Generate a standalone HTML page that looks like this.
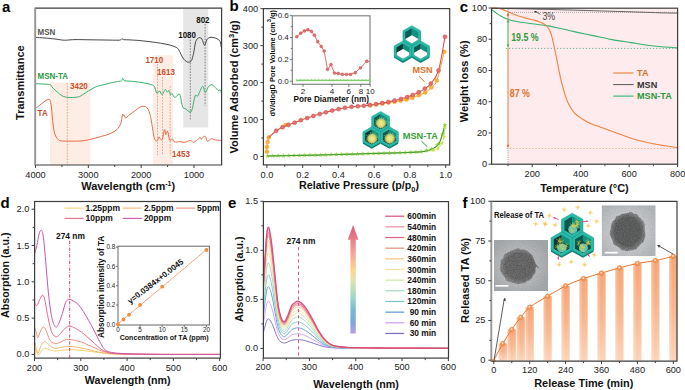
<!DOCTYPE html>
<html><head><meta charset="utf-8"><style>
html,body{margin:0;padding:0;background:#fff;}
svg{display:block;font-family:"Liberation Sans", sans-serif;}
</style></head><body>
<svg width="685" height="390" viewBox="0 0 685 390">
<rect width="685" height="390" fill="#fff"/>
<rect x="50" y="82.5" width="40.2" height="82.5" fill="#fdede4" />
<rect x="153.2" y="55.3" width="19.8" height="109.7" fill="#fdede4" />
<rect x="183.2" y="8.8" width="25" height="118.7" fill="#e6e6e6" />
<line x1="67.3" y1="83" x2="67.3" y2="165" stroke="#d77a62" stroke-width="0.65" stroke-dasharray="1.6,1.3"/>
<line x1="157.5" y1="64" x2="157.5" y2="155" stroke="#d77a62" stroke-width="0.65" stroke-dasharray="1.6,1.3"/>
<line x1="162.5" y1="77" x2="162.5" y2="155" stroke="#d77a62" stroke-width="0.65" stroke-dasharray="1.6,1.3"/>
<line x1="170.2" y1="86" x2="170.2" y2="155" stroke="#d77a62" stroke-width="0.65" stroke-dasharray="1.6,1.3"/>
<line x1="190.3" y1="39.5" x2="190.3" y2="120" stroke="#555" stroke-width="0.7" stroke-dasharray="1.6,1.3"/>
<line x1="205.1" y1="24" x2="205.1" y2="105.8" stroke="#555" stroke-width="0.7" stroke-dasharray="1.6,1.3"/>
<path d="M35.5,37.4 C37.08,37.5 41.75,37.73 45,38 C48.25,38.27 52.17,38.67 55,39 C57.83,39.33 60.17,39.8 62,40 C63.83,40.2 63.83,40.27 66,40.2 C68.17,40.13 71,39.67 75,39.6 C79,39.53 85,39.73 90,39.8 C95,39.87 100.33,39.93 105,40 C109.67,40.07 115.37,40.23 118,40.2 C120.63,40.17 120.13,40.07 120.8,39.8 C121.47,39.53 121.58,38.63 122,38.6 C122.42,38.57 121.97,39.38 123.3,39.6 C124.63,39.82 127.22,39.73 130,39.9 C132.78,40.07 136.67,40.3 140,40.6 C143.33,40.9 146.58,41.27 150,41.7 C153.42,42.13 157.35,42.68 160.5,43.2 C163.65,43.72 166.45,44.18 168.9,44.8 C171.35,45.42 173.62,46.17 175.2,46.9 C176.78,47.63 177.43,47.97 178.4,49.2 C179.37,50.43 180.13,52.67 181,54.3 C181.87,55.93 182.68,57.8 183.6,59 C184.52,60.2 185.62,60.97 186.5,61.5 C187.38,62.03 188.07,62.35 188.9,62.2 C189.73,62.05 190.72,62.1 191.5,60.6 C192.28,59.1 192.9,56.35 193.6,53.2 C194.3,50.05 194.9,44.23 195.7,41.7 C196.5,39.17 197.52,38.62 198.4,38 C199.28,37.38 200.3,37.57 201,38 C201.7,38.43 202,39.37 202.6,40.6 C203.2,41.83 203.9,45.53 204.6,45.4 C205.3,45.27 206.07,41.07 206.8,39.8 C207.53,38.53 208.3,38.22 209,37.8 C209.7,37.38 209.97,37.27 211,37.3 C212.03,37.33 213.97,37.62 215.2,38 C216.43,38.38 217.57,38.98 218.4,39.6 C219.23,40.22 219.73,40.47 220.2,41.7 C220.67,42.93 221.03,46.12 221.2,47" stroke="#333" stroke-width="0.9" fill="none" />
<path d="M35.5,83.6 C36.25,83.65 37.78,83.78 40,83.9 C42.22,84.02 47.05,84.15 48.8,84.3 C50.55,84.45 49.78,84.13 50.5,84.8 C51.22,85.47 51.93,87.07 53.1,88.3 C54.27,89.53 56.03,90.97 57.5,92.2 C58.97,93.43 60.58,94.9 61.9,95.7 C63.22,96.5 63.95,96.7 65.4,97 C66.85,97.3 68.55,97.5 70.6,97.5 C72.65,97.5 75.93,97.3 77.7,97 C79.47,96.7 79.75,96.5 81.2,95.7 C82.65,94.9 84.8,93.22 86.4,92.2 C88,91.18 89.33,90.43 90.8,89.6 C92.27,88.77 93.67,87.87 95.2,87.2 C96.73,86.53 97.73,86.23 100,85.6 C102.27,84.97 105.88,84.08 108.8,83.4 C111.72,82.72 115.4,81.92 117.5,81.5 C119.6,81.08 120.55,81.42 121.4,80.9 C122.25,80.38 122.18,78.52 122.6,78.4 C123.02,78.28 123.5,79.8 123.9,80.2 C124.3,80.6 123.15,80.57 125,80.8 C126.85,81.03 131.87,81.25 135,81.6 C138.13,81.95 141.3,82.47 143.8,82.9 C146.3,83.33 148.27,83.63 150,84.2 C151.73,84.77 153.07,84.82 154.2,86.3 C155.33,87.78 155.92,92.32 156.8,93.1 C157.68,93.88 158.62,90.73 159.5,91 C160.38,91.27 161.15,94.95 162.1,94.7 C163.05,94.45 164.32,89.93 165.2,89.5 C166.08,89.07 166.78,91.93 167.4,92.1 C168.02,92.27 168.38,90.07 168.9,90.5 C169.42,90.93 169.97,94.17 170.5,94.7 C171.03,95.23 171.4,93.25 172.1,93.7 C172.8,94.15 173.57,97.32 174.7,97.4 C175.83,97.48 177.93,94.3 178.9,94.2 C179.87,94.1 179.88,94.7 180.5,96.8 C181.12,98.9 181.72,104.78 182.6,106.8 C183.48,108.82 184.57,108.02 185.8,108.9 C187.03,109.78 188.95,112.02 190,112.1 C191.05,112.18 191.23,112.12 192.1,109.4 C192.97,106.68 194.25,98.07 195.2,95.8 C196.15,93.53 196.57,97.38 197.8,95.8 C199.03,94.22 201.37,86.83 202.6,86.3 C203.83,85.77 204.23,92.52 205.2,92.6 C206.17,92.68 207.27,88.12 208.4,86.8 C209.53,85.48 210.87,84.6 212,84.7 C213.13,84.8 214.15,86.43 215.2,87.4 C216.25,88.37 217.42,90.07 218.3,90.5 C219.18,90.93 219.98,89.5 220.5,90 C221.02,90.5 221.25,92.92 221.4,93.5" stroke="#35b06a" stroke-width="1.0" fill="none" />
<path d="M35.5,108.4 C36.25,107.83 38.42,106.23 40,105 C41.58,103.77 43.52,101.95 45,101 C46.48,100.05 48,99.22 48.9,99.3 C49.8,99.38 49.97,100.05 50.4,101.5 C50.83,102.95 51.07,104.25 51.5,108 C51.93,111.75 52.48,119.83 53,124 C53.52,128.17 53.93,130.63 54.6,133 C55.27,135.37 55.98,136.9 57,138.2 C58.02,139.5 58.53,140.32 60.7,140.8 C62.87,141.28 66.62,141.07 70,141.1 C73.38,141.13 77.77,141.25 81,141 C84.23,140.75 87.07,140.07 89.4,139.6 C91.73,139.13 92.95,138.75 95,138.2 C97.05,137.65 99.53,136.92 101.7,136.3 C103.87,135.68 106.28,135.1 108,134.5 C109.72,133.9 110.67,133.4 112,132.7 C113.33,132 115,131.03 116,130.3 C117,129.57 117.28,129.22 118,128.3 C118.72,127.38 119.68,126.25 120.3,124.8 C120.92,123.35 121.35,121.33 121.7,119.6 C122.05,117.87 122.15,115.07 122.4,114.4 C122.65,113.73 122.93,115.53 123.2,115.6 C123.47,115.67 123.57,114.37 124,114.8 C124.43,115.23 125.07,118.07 125.8,118.2 C126.53,118.33 127.02,116.72 128.4,115.6 C129.78,114.48 132.18,112.9 134.1,111.5 C136.02,110.1 138.25,108.07 139.9,107.2 C141.55,106.33 142.85,106.25 144,106.3 C145.15,106.35 145.95,106.63 146.8,107.5 C147.65,108.37 148.42,109.67 149.1,111.5 C149.78,113.33 150.32,115.62 150.9,118.5 C151.48,121.38 152.03,125.53 152.6,128.8 C153.17,132.07 153.72,136.07 154.3,138.1 C154.88,140.13 155.52,140.72 156.1,141 C156.68,141.28 157.33,140.48 157.8,139.8 C158.27,139.12 158.52,137.1 158.9,136.9 C159.28,136.7 159.7,138.12 160.1,138.6 C160.5,139.08 160.92,139.7 161.3,139.8 C161.68,139.9 162.02,140.27 162.4,139.2 C162.78,138.13 163.22,135.03 163.6,133.4 C163.98,131.77 164.32,129.2 164.7,129.4 C165.08,129.6 165.42,134.32 165.9,134.6 C166.38,134.88 167.03,130.33 167.6,131.1 C168.17,131.87 168.82,137.68 169.3,139.2 C169.78,140.72 169.98,140.25 170.5,140.2 C171.02,140.15 171.82,138.65 172.4,138.9 C172.98,139.15 173.2,141.17 174,141.7 C174.8,142.23 176.27,142.17 177.2,142.1 C178.13,142.03 178.8,141.3 179.6,141.3 C180.4,141.3 180.92,141.97 182,142.1 C183.08,142.23 185.02,142.3 186.1,142.1 C187.18,141.9 187.63,141.13 188.5,140.9 C189.37,140.67 190.5,140.47 191.3,140.7 C192.1,140.93 192.43,142.33 193.3,142.3 C194.17,142.27 195.37,141.3 196.5,140.5 C197.63,139.7 199.3,137.7 200.1,137.5 C200.9,137.3 200.7,139.47 201.3,139.3 C201.9,139.13 202.97,136.9 203.7,136.5 C204.43,136.1 205.1,136.1 205.7,136.9 C206.3,137.7 206.35,141.02 207.3,141.3 C208.25,141.58 210.25,138.87 211.4,138.6 C212.55,138.33 212.6,139.38 214.2,139.7 C215.8,140.02 219.87,140.37 221,140.5" stroke="#ea6a45" stroke-width="1.0" fill="none" />
<path d="M35.2,8.2 H221.6 V165 H35.2" fill="none" stroke="#3c3c3c" stroke-width="1.2" stroke-linecap="square"/>
<line x1="35.2" y1="8.2" x2="35.2" y2="165" stroke="#959595" stroke-width="1.9" />
<line x1="35.5" y1="165" x2="35.5" y2="168" stroke="#3c3c3c" stroke-width="1.0" />
<line x1="88.33" y1="165" x2="88.33" y2="168" stroke="#3c3c3c" stroke-width="1.0" />
<line x1="141.16" y1="165" x2="141.16" y2="168" stroke="#3c3c3c" stroke-width="1.0" />
<line x1="193.99" y1="165" x2="193.99" y2="168" stroke="#3c3c3c" stroke-width="1.0" />
<line x1="61.92" y1="165" x2="61.92" y2="167" stroke="#3c3c3c" stroke-width="1.0" />
<line x1="114.75" y1="165" x2="114.75" y2="167" stroke="#3c3c3c" stroke-width="1.0" />
<line x1="167.58" y1="165" x2="167.58" y2="167" stroke="#3c3c3c" stroke-width="1.0" />
<text x="0" y="0" transform="translate(35.5,177.6) scale(1,1.06)" font-size="9.2" font-weight="normal" fill="#222" text-anchor="middle" >4000</text>
<text x="0" y="0" transform="translate(88.33,177.6) scale(1,1.06)" font-size="9.2" font-weight="normal" fill="#222" text-anchor="middle" >3000</text>
<text x="0" y="0" transform="translate(141.16,177.6) scale(1,1.06)" font-size="9.2" font-weight="normal" fill="#222" text-anchor="middle" >2000</text>
<text x="0" y="0" transform="translate(193.99,177.6) scale(1,1.06)" font-size="9.2" font-weight="normal" fill="#222" text-anchor="middle" >1000</text>
<text x="128.2" y="190.2" font-size="11" font-weight="bold" fill="#111" text-anchor="middle" >Wavelength (cm<tspan font-size="7" dy="-4">-1</tspan><tspan dy="4">)</tspan></text>
<text x="0" y="0" font-size="11" font-weight="bold" fill="#111" text-anchor="middle" transform="translate(23.8,82.6) rotate(-90)">Transmittance</text>
<text x="0" y="0" transform="translate(37.6,34.8) scale(1,1.22)" font-size="8" font-weight="bold" fill="#555" text-anchor="start" >MSN</text>
<text x="0" y="0" transform="translate(37.6,79.4) scale(1,1.22)" font-size="8" font-weight="bold" fill="#2b9a45" text-anchor="start" >MSN-TA</text>
<text x="0" y="0" transform="translate(37.6,116.2) scale(1,1.22)" font-size="8" font-weight="bold" fill="#c9502c" text-anchor="start" >TA</text>
<text x="0" y="0" transform="translate(70,88.6) scale(1,1.22)" font-size="8" font-weight="bold" fill="#c9502c" text-anchor="start" >3420</text>
<text x="0" y="0" transform="translate(145.4,63) scale(1,1.22)" font-size="8" font-weight="bold" fill="#c9502c" text-anchor="start" >1710</text>
<text x="0" y="0" transform="translate(157.1,75) scale(1,1.22)" font-size="8" font-weight="bold" fill="#c9502c" text-anchor="start" >1613</text>
<text x="0" y="0" transform="translate(172.1,157.3) scale(1,1.22)" font-size="8" font-weight="bold" fill="#c9502c" text-anchor="start" >1453</text>
<text x="0" y="0" transform="translate(178.2,37.8) scale(1,1.22)" font-size="8" font-weight="bold" fill="#111" text-anchor="start" >1080</text>
<text x="0" y="0" transform="translate(196.2,22.8) scale(1,1.22)" font-size="8" font-weight="bold" fill="#111" text-anchor="start" >802</text>
<text x="2" y="11.6" font-size="15" font-weight="bold" fill="#000" text-anchor="start" >a</text>
<defs><radialGradient id="fuzz"><stop offset="0" stop-color="#f3ec8c"/><stop offset="0.55" stop-color="#e3dc70"/><stop offset="0.8" stop-color="#c8d67a" stop-opacity="0.8"/><stop offset="1" stop-color="#9ccf90" stop-opacity="0.3"/></radialGradient></defs>
<rect x="263.4" y="8.6" width="186.3" height="156.3" fill="none" stroke="#3c3c3c" stroke-width="1.2"/>
<line x1="266.9" y1="164.9" x2="266.9" y2="167.9" stroke="#3c3c3c" stroke-width="1.0" />
<line x1="302.66" y1="164.9" x2="302.66" y2="167.9" stroke="#3c3c3c" stroke-width="1.0" />
<line x1="338.42" y1="164.9" x2="338.42" y2="167.9" stroke="#3c3c3c" stroke-width="1.0" />
<line x1="374.18" y1="164.9" x2="374.18" y2="167.9" stroke="#3c3c3c" stroke-width="1.0" />
<line x1="409.94" y1="164.9" x2="409.94" y2="167.9" stroke="#3c3c3c" stroke-width="1.0" />
<line x1="445.7" y1="164.9" x2="445.7" y2="167.9" stroke="#3c3c3c" stroke-width="1.0" />
<line x1="284.78" y1="164.9" x2="284.78" y2="166.9" stroke="#3c3c3c" stroke-width="1.0" />
<line x1="320.54" y1="164.9" x2="320.54" y2="166.9" stroke="#3c3c3c" stroke-width="1.0" />
<line x1="356.3" y1="164.9" x2="356.3" y2="166.9" stroke="#3c3c3c" stroke-width="1.0" />
<line x1="392.06" y1="164.9" x2="392.06" y2="166.9" stroke="#3c3c3c" stroke-width="1.0" />
<line x1="427.82" y1="164.9" x2="427.82" y2="166.9" stroke="#3c3c3c" stroke-width="1.0" />
<line x1="260.4" y1="156.5" x2="263.4" y2="156.5" stroke="#3c3c3c" stroke-width="1.0" />
<line x1="260.4" y1="119.55" x2="263.4" y2="119.55" stroke="#3c3c3c" stroke-width="1.0" />
<line x1="260.4" y1="82.6" x2="263.4" y2="82.6" stroke="#3c3c3c" stroke-width="1.0" />
<line x1="260.4" y1="45.65" x2="263.4" y2="45.65" stroke="#3c3c3c" stroke-width="1.0" />
<line x1="260.4" y1="8.7" x2="263.4" y2="8.7" stroke="#3c3c3c" stroke-width="1.0" />
<line x1="261.4" y1="138.03" x2="263.4" y2="138.03" stroke="#3c3c3c" stroke-width="1.0" />
<line x1="261.4" y1="101.08" x2="263.4" y2="101.08" stroke="#3c3c3c" stroke-width="1.0" />
<line x1="261.4" y1="64.12" x2="263.4" y2="64.12" stroke="#3c3c3c" stroke-width="1.0" />
<line x1="261.4" y1="27.18" x2="263.4" y2="27.18" stroke="#3c3c3c" stroke-width="1.0" />
<text x="0" y="0" transform="translate(266.9,177.6) scale(1,1.06)" font-size="9.2" font-weight="normal" fill="#222" text-anchor="middle" >0.0</text>
<text x="0" y="0" transform="translate(302.66,177.6) scale(1,1.06)" font-size="9.2" font-weight="normal" fill="#222" text-anchor="middle" >0.2</text>
<text x="0" y="0" transform="translate(338.42,177.6) scale(1,1.06)" font-size="9.2" font-weight="normal" fill="#222" text-anchor="middle" >0.4</text>
<text x="0" y="0" transform="translate(374.18,177.6) scale(1,1.06)" font-size="9.2" font-weight="normal" fill="#222" text-anchor="middle" >0.6</text>
<text x="0" y="0" transform="translate(409.94,177.6) scale(1,1.06)" font-size="9.2" font-weight="normal" fill="#222" text-anchor="middle" >0.8</text>
<text x="0" y="0" transform="translate(445.7,177.6) scale(1,1.06)" font-size="9.2" font-weight="normal" fill="#222" text-anchor="middle" >1.0</text>
<text x="0" y="0" transform="translate(258.2,159.5) scale(1,1.06)" font-size="9.2" font-weight="normal" fill="#222" text-anchor="end" >0</text>
<text x="0" y="0" transform="translate(258.2,122.55) scale(1,1.06)" font-size="9.2" font-weight="normal" fill="#222" text-anchor="end" >100</text>
<text x="0" y="0" transform="translate(258.2,85.6) scale(1,1.06)" font-size="9.2" font-weight="normal" fill="#222" text-anchor="end" >200</text>
<text x="0" y="0" transform="translate(258.2,48.65) scale(1,1.06)" font-size="9.2" font-weight="normal" fill="#222" text-anchor="end" >300</text>
<text x="0" y="0" transform="translate(258.2,11.7) scale(1,1.06)" font-size="9.2" font-weight="normal" fill="#222" text-anchor="end" >400</text>
<text x="359" y="189.4" font-size="10.7" font-weight="bold" fill="#111" text-anchor="middle" >Relative Pressure (p/p<tspan font-size="7.3" dy="2.5">0</tspan><tspan dy="-2.5">)</tspan></text>
<text x="0" y="0" font-size="11" font-weight="bold" fill="#111" text-anchor="middle" transform="translate(238.2,86.9) rotate(-90)">Volume Adsorbed (cm<tspan font-size="7.5" dy="-4">3</tspan><tspan dy="4">/g)</tspan></text>
<text x="229.5" y="11" font-size="15" font-weight="bold" fill="#000" text-anchor="start" >b</text>
<path d="M266.9,151.8 L266.9,147 L267.6,142.1 L268.7,137.5" stroke="#f5a12a" stroke-width="1.0" fill="none" />
<path d="M370.5,105.1 C371.5,104.97 374.5,104.58 376.5,104.3 C378.5,104.02 380.5,103.68 382.5,103.4 C384.5,103.12 386.5,102.87 388.5,102.6 C390.5,102.33 392.5,102.1 394.5,101.8 C396.5,101.5 398.5,101.17 400.5,100.8 C402.5,100.43 404.52,100.1 406.5,99.6 C408.48,99.1 410.35,98.53 412.4,97.8 C414.45,97.07 416.67,96.07 418.8,95.2 C420.93,94.33 423.12,93.88 425.2,92.6 C427.28,91.32 429.37,89.5 431.3,87.5 C433.23,85.5 434.65,86.55 436.8,80.6 C438.95,74.65 442.97,56.6 444.2,51.8" stroke="#f5a12a" stroke-width="1.0" fill="none" />
<circle cx="266.9" cy="151.8" r="2.0" fill="#f9b234" stroke="#f39a1e" stroke-width="0.4"/>
<circle cx="266.9" cy="147" r="2.0" fill="#f9b234" stroke="#f39a1e" stroke-width="0.4"/>
<circle cx="267.6" cy="142.1" r="2.0" fill="#f9b234" stroke="#f39a1e" stroke-width="0.4"/>
<circle cx="268.7" cy="137.5" r="2.0" fill="#f9b234" stroke="#f39a1e" stroke-width="0.4"/>
<circle cx="285.6" cy="124.9" r="2.0" fill="#f9b234" stroke="#f39a1e" stroke-width="0.4"/>
<circle cx="444.2" cy="51.8" r="2.0" fill="#f9b234" stroke="#f39a1e" stroke-width="0.4"/>
<circle cx="436.8" cy="80.6" r="2.0" fill="#f9b234" stroke="#f39a1e" stroke-width="0.4"/>
<circle cx="431.3" cy="87.5" r="2.0" fill="#f9b234" stroke="#f39a1e" stroke-width="0.4"/>
<circle cx="425.2" cy="92.6" r="2.0" fill="#f9b234" stroke="#f39a1e" stroke-width="0.4"/>
<circle cx="418.8" cy="95.2" r="2.0" fill="#f9b234" stroke="#f39a1e" stroke-width="0.4"/>
<circle cx="412.4" cy="97.8" r="2.0" fill="#f9b234" stroke="#f39a1e" stroke-width="0.4"/>
<circle cx="406.5" cy="99.6" r="2.0" fill="#f9b234" stroke="#f39a1e" stroke-width="0.4"/>
<circle cx="400.5" cy="100.8" r="2.0" fill="#f9b234" stroke="#f39a1e" stroke-width="0.4"/>
<circle cx="394.5" cy="101.8" r="2.0" fill="#f9b234" stroke="#f39a1e" stroke-width="0.4"/>
<circle cx="388.5" cy="102.6" r="2.0" fill="#f9b234" stroke="#f39a1e" stroke-width="0.4"/>
<circle cx="382.5" cy="103.4" r="2.0" fill="#f9b234" stroke="#f39a1e" stroke-width="0.4"/>
<circle cx="376.5" cy="104.3" r="2.0" fill="#f9b234" stroke="#f39a1e" stroke-width="0.4"/>
<circle cx="370.5" cy="105.1" r="2.0" fill="#f9b234" stroke="#f39a1e" stroke-width="0.4"/>
<path d="M268.7,137.6 C269.95,136.47 273.9,132.53 276.2,130.8 C278.5,129.07 280.45,128.2 282.5,127.2 C284.55,126.2 286.48,125.55 288.5,124.8 C290.52,124.05 292.55,123.47 294.6,122.7 C296.65,121.93 298.7,120.98 300.8,120.2 C302.9,119.42 305.1,118.7 307.2,118 C309.3,117.3 311.32,116.65 313.4,116 C315.48,115.35 317.63,114.72 319.7,114.1 C321.77,113.48 323.72,112.88 325.8,112.3 C327.88,111.72 330.05,111.13 332.2,110.6 C334.35,110.07 336.57,109.57 338.7,109.1 C340.83,108.63 342.87,108.18 345,107.8 C347.13,107.42 349.37,107.05 351.5,106.8 C353.63,106.55 355.75,106.47 357.8,106.3 C359.85,106.13 361.8,106 363.8,105.8 C365.8,105.6 367.8,105.37 369.8,105.1 C371.8,104.83 373.73,104.53 375.8,104.2 C377.87,103.87 380.12,103.48 382.2,103.1 C384.28,102.72 386.25,102.32 388.3,101.9 C390.35,101.48 392.38,101.1 394.5,100.6 C396.62,100.1 398.88,99.48 401,98.9 C403.12,98.32 405.23,97.75 407.2,97.1 C409.17,96.45 410.88,95.8 412.8,95 C414.72,94.2 416.68,93.37 418.7,92.3 C420.72,91.23 422.88,90.05 424.9,88.6 C426.92,87.15 428.53,86.62 430.8,83.6 C433.07,80.58 436.13,78.3 438.5,70.5 C440.87,62.7 443.92,42.42 445,36.8" stroke="#e0554a" stroke-width="1.1" fill="none" />
<circle cx="276.2" cy="130.8" r="2.0" fill="#e2726c" stroke="#cf4842" stroke-width="0.5"/>
<circle cx="282.5" cy="127.2" r="2.0" fill="#e2726c" stroke="#cf4842" stroke-width="0.5"/>
<circle cx="288.5" cy="124.8" r="2.0" fill="#e2726c" stroke="#cf4842" stroke-width="0.5"/>
<circle cx="294.6" cy="122.7" r="2.0" fill="#e2726c" stroke="#cf4842" stroke-width="0.5"/>
<circle cx="300.8" cy="120.2" r="2.0" fill="#e2726c" stroke="#cf4842" stroke-width="0.5"/>
<circle cx="307.2" cy="118" r="2.0" fill="#e2726c" stroke="#cf4842" stroke-width="0.5"/>
<circle cx="313.4" cy="116" r="2.0" fill="#e2726c" stroke="#cf4842" stroke-width="0.5"/>
<circle cx="319.7" cy="114.1" r="2.0" fill="#e2726c" stroke="#cf4842" stroke-width="0.5"/>
<circle cx="325.8" cy="112.3" r="2.0" fill="#e2726c" stroke="#cf4842" stroke-width="0.5"/>
<circle cx="332.2" cy="110.6" r="2.0" fill="#e2726c" stroke="#cf4842" stroke-width="0.5"/>
<circle cx="338.7" cy="109.1" r="2.0" fill="#e2726c" stroke="#cf4842" stroke-width="0.5"/>
<circle cx="345" cy="107.8" r="2.0" fill="#e2726c" stroke="#cf4842" stroke-width="0.5"/>
<circle cx="351.5" cy="106.8" r="2.0" fill="#e2726c" stroke="#cf4842" stroke-width="0.5"/>
<circle cx="357.8" cy="106.3" r="2.0" fill="#e2726c" stroke="#cf4842" stroke-width="0.5"/>
<circle cx="363.8" cy="105.8" r="2.0" fill="#e2726c" stroke="#cf4842" stroke-width="0.5"/>
<circle cx="369.8" cy="105.1" r="2.0" fill="#e2726c" stroke="#cf4842" stroke-width="0.5"/>
<circle cx="375.8" cy="104.2" r="2.0" fill="#e2726c" stroke="#cf4842" stroke-width="0.5"/>
<circle cx="382.2" cy="103.1" r="2.0" fill="#e2726c" stroke="#cf4842" stroke-width="0.5"/>
<circle cx="388.3" cy="101.9" r="2.0" fill="#e2726c" stroke="#cf4842" stroke-width="0.5"/>
<circle cx="394.5" cy="100.6" r="2.0" fill="#e2726c" stroke="#cf4842" stroke-width="0.5"/>
<circle cx="401" cy="98.9" r="2.0" fill="#e2726c" stroke="#cf4842" stroke-width="0.5"/>
<circle cx="407.2" cy="97.1" r="2.0" fill="#e2726c" stroke="#cf4842" stroke-width="0.5"/>
<circle cx="412.8" cy="95" r="2.0" fill="#e2726c" stroke="#cf4842" stroke-width="0.5"/>
<circle cx="418.7" cy="92.3" r="2.0" fill="#e2726c" stroke="#cf4842" stroke-width="0.5"/>
<circle cx="424.9" cy="88.6" r="2.0" fill="#e2726c" stroke="#cf4842" stroke-width="0.5"/>
<circle cx="430.8" cy="83.6" r="2.0" fill="#e2726c" stroke="#cf4842" stroke-width="0.5"/>
<circle cx="438.5" cy="70.5" r="2.0" fill="#e2726c" stroke="#cf4842" stroke-width="0.5"/>
<circle cx="445" cy="36.8" r="2.0" fill="#e2726c" stroke="#cf4842" stroke-width="0.5"/>
<path d="M267.5,156 C271.25,155.93 281.25,155.77 290,155.6 C298.75,155.43 310,155.23 320,155 C330,154.77 340,154.48 350,154.2 C360,153.92 370.83,153.57 380,153.3 C389.17,153.03 397.83,152.88 405,152.6 C412.17,152.32 418.38,152.25 423,151.6 C427.62,150.95 430.07,150 432.7,148.7 C435.33,147.4 437.17,146.25 438.8,143.8 C440.43,141.35 441.48,137.13 442.5,134 C443.52,130.87 444.5,126.5 444.9,125" stroke="#3a9433" stroke-width="1.0" fill="none" />
<polygon points="267.5,153.4 266.81,155.05 265.03,155.2 266.39,156.36 265.97,158.1 267.5,157.17 269.03,158.1 268.61,156.36 269.97,155.2 268.19,155.05" fill="#a2d94c" stroke="none" stroke-width="0" />
<polygon points="272.8,153.31 272.11,154.96 270.33,155.1 271.69,156.27 271.27,158.01 272.8,157.08 274.33,158.01 273.91,156.27 275.27,155.1 273.49,154.96" fill="#a2d94c" stroke="none" stroke-width="0" />
<polygon points="278.1,153.21 277.41,154.87 275.63,155.01 276.99,156.17 276.57,157.91 278.1,156.98 279.63,157.91 279.21,156.17 280.57,155.01 278.79,154.87" fill="#a2d94c" stroke="none" stroke-width="0" />
<polygon points="283.4,153.12 282.71,154.77 280.93,154.91 282.29,156.08 281.87,157.82 283.4,156.89 284.93,157.82 284.51,156.08 285.87,154.91 284.09,154.77" fill="#a2d94c" stroke="none" stroke-width="0" />
<polygon points="288.7,153.02 288.01,154.68 286.23,154.82 287.59,155.98 287.17,157.73 288.7,156.79 290.23,157.73 289.81,155.98 291.17,154.82 289.39,154.68" fill="#a2d94c" stroke="none" stroke-width="0" />
<polygon points="294,152.92 293.31,154.57 291.53,154.72 292.89,155.88 292.47,157.62 294,156.69 295.53,157.62 295.11,155.88 296.47,154.72 294.69,154.57" fill="#a2d94c" stroke="none" stroke-width="0" />
<polygon points="299.3,152.81 298.61,154.47 296.83,154.61 298.19,155.78 297.77,157.52 299.3,156.58 300.83,157.52 300.41,155.78 301.77,154.61 299.99,154.47" fill="#a2d94c" stroke="none" stroke-width="0" />
<polygon points="304.6,152.71 303.91,154.36 302.13,154.5 303.49,155.67 303.07,157.41 304.6,156.48 306.13,157.41 305.71,155.67 307.07,154.5 305.29,154.36" fill="#a2d94c" stroke="none" stroke-width="0" />
<polygon points="309.9,152.6 309.21,154.26 307.43,154.4 308.79,155.56 308.37,157.31 309.9,156.37 311.43,157.31 311.01,155.56 312.37,154.4 310.59,154.26" fill="#a2d94c" stroke="none" stroke-width="0" />
<polygon points="315.2,152.5 314.51,154.15 312.73,154.29 314.09,155.46 313.67,157.2 315.2,156.27 316.73,157.2 316.31,155.46 317.67,154.29 315.89,154.15" fill="#a2d94c" stroke="none" stroke-width="0" />
<polygon points="320.5,152.39 319.81,154.04 318.03,154.18 319.39,155.35 318.97,157.09 320.5,156.16 322.03,157.09 321.61,155.35 322.97,154.18 321.19,154.04" fill="#a2d94c" stroke="none" stroke-width="0" />
<polygon points="325.8,152.25 325.11,153.9 323.33,154.04 324.69,155.21 324.27,156.95 325.8,156.02 327.33,156.95 326.91,155.21 328.27,154.04 326.49,153.9" fill="#a2d94c" stroke="none" stroke-width="0" />
<polygon points="331.1,152.1 330.41,153.76 328.63,153.9 329.99,155.07 329.57,156.81 331.1,155.87 332.63,156.81 332.21,155.07 333.57,153.9 331.79,153.76" fill="#a2d94c" stroke="none" stroke-width="0" />
<polygon points="336.4,151.96 335.71,153.62 333.93,153.76 335.29,154.92 334.87,156.67 336.4,155.73 337.93,156.67 337.51,154.92 338.87,153.76 337.09,153.62" fill="#a2d94c" stroke="none" stroke-width="0" />
<polygon points="341.7,151.82 341.01,153.47 339.23,153.62 340.59,154.78 340.17,156.52 341.7,155.59 343.23,156.52 342.81,154.78 344.17,153.62 342.39,153.47" fill="#a2d94c" stroke="none" stroke-width="0" />
<polygon points="347,151.68 346.31,153.33 344.53,153.48 345.89,154.64 345.47,156.38 347,155.45 348.53,156.38 348.11,154.64 349.47,153.48 347.69,153.33" fill="#a2d94c" stroke="none" stroke-width="0" />
<polygon points="352.3,151.53 351.61,153.18 349.83,153.33 351.19,154.49 350.77,156.23 352.3,155.3 353.83,156.23 353.41,154.49 354.77,153.33 352.99,153.18" fill="#a2d94c" stroke="none" stroke-width="0" />
<polygon points="357.6,151.37 356.91,153.03 355.13,153.17 356.49,154.33 356.07,156.08 357.6,155.14 359.13,156.08 358.71,154.33 360.07,153.17 358.29,153.03" fill="#a2d94c" stroke="none" stroke-width="0" />
<polygon points="362.9,151.21 362.21,152.87 360.43,153.01 361.79,154.17 361.37,155.92 362.9,154.98 364.43,155.92 364.01,154.17 365.37,153.01 363.59,152.87" fill="#a2d94c" stroke="none" stroke-width="0" />
<polygon points="368.2,151.05 367.51,152.71 365.73,152.85 367.09,154.02 366.67,155.76 368.2,154.82 369.73,155.76 369.31,154.02 370.67,152.85 368.89,152.71" fill="#a2d94c" stroke="none" stroke-width="0" />
<polygon points="373.5,150.9 372.81,152.55 371.03,152.69 372.39,153.86 371.97,155.6 373.5,154.66 375.03,155.6 374.61,153.86 375.97,152.69 374.19,152.55" fill="#a2d94c" stroke="none" stroke-width="0" />
<polygon points="378.8,150.74 378.11,152.39 376.33,152.53 377.69,153.7 377.27,155.44 378.8,154.51 380.33,155.44 379.91,153.7 381.27,152.53 379.49,152.39" fill="#a2d94c" stroke="none" stroke-width="0" />
<polygon points="384.1,150.59 383.41,152.24 381.63,152.38 382.99,153.55 382.57,155.29 384.1,154.36 385.63,155.29 385.21,153.55 386.57,152.38 384.79,152.24" fill="#a2d94c" stroke="none" stroke-width="0" />
<polygon points="389.4,150.44 388.71,152.09 386.93,152.23 388.29,153.4 387.87,155.14 389.4,154.21 390.93,155.14 390.51,153.4 391.87,152.23 390.09,152.09" fill="#a2d94c" stroke="none" stroke-width="0" />
<polygon points="394.7,150.29 394.01,151.94 392.23,152.08 393.59,153.25 393.17,154.99 394.7,154.06 396.23,154.99 395.81,153.25 397.17,152.08 395.39,151.94" fill="#a2d94c" stroke="none" stroke-width="0" />
<polygon points="400,150.14 399.31,151.79 397.53,151.94 398.89,153.1 398.47,154.84 400,153.91 401.53,154.84 401.11,153.1 402.47,151.94 400.69,151.79" fill="#a2d94c" stroke="none" stroke-width="0" />
<polygon points="405.3,149.98 404.61,151.64 402.83,151.78 404.19,152.94 403.77,154.69 405.3,153.75 406.83,154.69 406.41,152.94 407.77,151.78 405.99,151.64" fill="#a2d94c" stroke="none" stroke-width="0" />
<polygon points="410.6,149.69 409.91,151.34 408.13,151.49 409.49,152.65 409.07,154.39 410.6,153.46 412.13,154.39 411.71,152.65 413.07,151.49 411.29,151.34" fill="#a2d94c" stroke="none" stroke-width="0" />
<polygon points="415.9,149.39 415.21,151.05 413.43,151.19 414.79,152.36 414.37,154.1 415.9,153.16 417.43,154.1 417.01,152.36 418.37,151.19 416.59,151.05" fill="#a2d94c" stroke="none" stroke-width="0" />
<polygon points="421.2,149.1 420.51,150.75 418.73,150.9 420.09,152.06 419.67,153.8 421.2,152.87 422.73,153.8 422.31,152.06 423.67,150.9 421.89,150.75" fill="#a2d94c" stroke="none" stroke-width="0" />
<polygon points="426.5,147.95 425.81,149.61 424.03,149.75 425.39,150.92 424.97,152.66 426.5,151.72 428.03,152.66 427.61,150.92 428.97,149.75 427.19,149.61" fill="#a2d94c" stroke="none" stroke-width="0" />
<polygon points="431.8,146.37 431.11,148.02 429.33,148.17 430.69,149.33 430.27,151.07 431.8,150.14 433.33,151.07 432.91,149.33 434.27,148.17 432.49,148.02" fill="#a2d94c" stroke="none" stroke-width="0" />
<polygon points="437.1,142.57 436.41,144.22 434.63,144.36 435.99,145.53 435.57,147.27 437.1,146.34 438.63,147.27 438.21,145.53 439.57,144.36 437.79,144.22" fill="#a2d94c" stroke="none" stroke-width="0" />
<polygon points="438.8,141.2 438.11,142.85 436.33,143 437.69,144.16 437.27,145.9 438.8,144.97 440.33,145.9 439.91,144.16 441.27,143 439.49,142.85" fill="#a2d94c" stroke="none" stroke-width="0" />
<polygon points="442.5,131.4 441.81,133.05 440.03,133.2 441.39,134.36 440.97,136.1 442.5,135.17 444.03,136.1 443.61,134.36 444.97,133.2 443.19,133.05" fill="#a2d94c" stroke="none" stroke-width="0" />
<polygon points="444.9,122.4 444.21,124.05 442.43,124.2 443.79,125.36 443.37,127.1 444.9,126.17 446.43,127.1 446.01,125.36 447.37,124.2 445.59,124.05" fill="#a2d94c" stroke="none" stroke-width="0" />
<path d="M267.5,156 C271.25,155.93 281.25,155.77 290,155.6 C298.75,155.43 310,155.23 320,155 C330,154.77 340,154.48 350,154.2 C360,153.92 370.83,153.57 380,153.3 C389.17,153.03 397.83,152.88 405,152.6 C412.17,152.32 418.38,152.25 423,151.6 C427.62,150.95 430.07,150 432.7,148.7 C435.33,147.4 437.17,146.25 438.8,143.8 C440.43,141.35 441.48,137.13 442.5,134 C443.52,130.87 444.5,126.5 444.9,125" stroke="#3a9433" stroke-width="0.8" fill="none" />
<path d="M428,151.2 C428.92,151.03 431.83,150.67 433.5,150.2 C435.17,149.73 436.58,149.55 438,148.4 C439.42,147.25 441.03,145.22 442,143.3 C442.97,141.38 443.32,139.53 443.8,136.9 C444.28,134.27 444.72,129.07 444.9,127.5" stroke="#c2dc3c" stroke-width="0.8" fill="none" />
<polygon points="433.5,148 432.92,149.4 431.41,149.52 432.56,150.51 432.21,151.98 433.5,151.19 434.79,151.98 434.44,150.51 435.59,149.52 434.08,149.4" fill="#cfe04a" stroke="none" stroke-width="0" />
<polygon points="438,146.2 437.42,147.6 435.91,147.72 437.06,148.71 436.71,150.18 438,149.39 439.29,150.18 438.94,148.71 440.09,147.72 438.58,147.6" fill="#cfe04a" stroke="none" stroke-width="0" />
<polygon points="442,141.1 441.42,142.5 439.91,142.62 441.06,143.61 440.71,145.08 442,144.29 443.29,145.08 442.94,143.61 444.09,142.62 442.58,142.5" fill="#cfe04a" stroke="none" stroke-width="0" />
<polygon points="443.8,134.7 443.22,136.1 441.71,136.22 442.86,137.21 442.51,138.68 443.8,137.89 445.09,138.68 444.74,137.21 445.89,136.22 444.38,136.1" fill="#cfe04a" stroke="none" stroke-width="0" />
<polygon points="444.9,125.3 444.32,126.7 442.81,126.82 443.96,127.81 443.61,129.28 444.9,128.49 446.19,129.28 445.84,127.81 446.99,126.82 445.48,126.7" fill="#cfe04a" stroke="none" stroke-width="0" />
<rect x="292.3" y="15.8" width="77.7" height="68.5" fill="#fff" />
<rect x="292.3" y="15.8" width="77.7" height="68.5" fill="none" stroke="#7a7a7a" stroke-width="1.1"/>
<line x1="289.8" y1="81.2" x2="292.3" y2="81.2" stroke="#555" stroke-width="0.8" />
<text x="288.8" y="84" font-size="8" font-weight="normal" fill="#222" text-anchor="end" >0.0</text>
<line x1="289.8" y1="59.36" x2="292.3" y2="59.36" stroke="#555" stroke-width="0.8" />
<text x="288.8" y="62.16" font-size="8" font-weight="normal" fill="#222" text-anchor="end" >0.2</text>
<line x1="289.8" y1="37.52" x2="292.3" y2="37.52" stroke="#555" stroke-width="0.8" />
<text x="288.8" y="40.32" font-size="8" font-weight="normal" fill="#222" text-anchor="end" >0.4</text>
<line x1="289.8" y1="15.68" x2="292.3" y2="15.68" stroke="#555" stroke-width="0.8" />
<text x="288.8" y="18.48" font-size="8" font-weight="normal" fill="#222" text-anchor="end" >0.6</text>
<line x1="290.8" y1="70.28" x2="292.3" y2="70.28" stroke="#555" stroke-width="0.8" />
<line x1="290.8" y1="48.44" x2="292.3" y2="48.44" stroke="#555" stroke-width="0.8" />
<line x1="290.8" y1="26.6" x2="292.3" y2="26.6" stroke="#555" stroke-width="0.8" />
<line x1="303" y1="84.3" x2="303" y2="86.8" stroke="#555" stroke-width="0.8" />
<text x="303" y="94" font-size="8" font-weight="normal" fill="#222" text-anchor="middle" >2</text>
<line x1="331.93" y1="84.3" x2="331.93" y2="86.8" stroke="#555" stroke-width="0.8" />
<text x="331.93" y="94" font-size="8" font-weight="normal" fill="#222" text-anchor="middle" >4</text>
<line x1="348.85" y1="84.3" x2="348.85" y2="86.8" stroke="#555" stroke-width="0.8" />
<text x="348.85" y="94" font-size="8" font-weight="normal" fill="#222" text-anchor="middle" >6</text>
<line x1="360.86" y1="84.3" x2="360.86" y2="86.8" stroke="#555" stroke-width="0.8" />
<text x="360.86" y="94" font-size="8" font-weight="normal" fill="#222" text-anchor="middle" >8</text>
<line x1="370.17" y1="84.3" x2="370.17" y2="86.8" stroke="#555" stroke-width="0.8" />
<text x="370.17" y="94" font-size="8" font-weight="normal" fill="#222" text-anchor="middle" >10</text>
<text x="331.2" y="101.5" font-size="8.2" font-weight="bold" fill="#111" text-anchor="middle" >Pore Diameter (nm)</text>
<text x="0" y="0" font-size="7.4" font-weight="bold" fill="#111" text-anchor="middle" transform="translate(274.6,63.2) rotate(-90)">dV/dlogD Pore Volume (cm<tspan font-size="5.8" dy="-3.2">3</tspan><tspan dy="3.2">/g)</tspan></text>
<path d="M296.8,36.7 L300.7,33.2 L304.4,31 L307.9,29.7 L311.4,31.4 L314.4,35.2 L317.7,41.7 L321.2,46.5 L324.2,51.1 L327.5,69.4 L331,64.6 L334.5,73.1 L338.2,73.5 L342.3,74.4 L346.5,74.4 L350.6,74.4 L355.2,72.7 L360.5,67.9 L366.8,61.3 L370,61.8" stroke="#e06060" stroke-width="0.9" fill="none" />
<circle cx="296.8" cy="36.7" r="1.45" fill="#e07070" stroke="#d04a4a" stroke-width="0.5"/>
<circle cx="300.7" cy="33.2" r="1.45" fill="#e07070" stroke="#d04a4a" stroke-width="0.5"/>
<circle cx="304.4" cy="31" r="1.45" fill="#e07070" stroke="#d04a4a" stroke-width="0.5"/>
<circle cx="307.9" cy="29.7" r="1.45" fill="#e07070" stroke="#d04a4a" stroke-width="0.5"/>
<circle cx="311.4" cy="31.4" r="1.45" fill="#e07070" stroke="#d04a4a" stroke-width="0.5"/>
<circle cx="314.4" cy="35.2" r="1.45" fill="#e07070" stroke="#d04a4a" stroke-width="0.5"/>
<circle cx="317.7" cy="41.7" r="1.45" fill="#e07070" stroke="#d04a4a" stroke-width="0.5"/>
<circle cx="321.2" cy="46.5" r="1.45" fill="#e07070" stroke="#d04a4a" stroke-width="0.5"/>
<circle cx="324.2" cy="51.1" r="1.45" fill="#e07070" stroke="#d04a4a" stroke-width="0.5"/>
<circle cx="327.5" cy="69.4" r="1.45" fill="#e07070" stroke="#d04a4a" stroke-width="0.5"/>
<circle cx="331" cy="64.6" r="1.45" fill="#e07070" stroke="#d04a4a" stroke-width="0.5"/>
<circle cx="334.5" cy="73.1" r="1.45" fill="#e07070" stroke="#d04a4a" stroke-width="0.5"/>
<circle cx="338.2" cy="73.5" r="1.45" fill="#e07070" stroke="#d04a4a" stroke-width="0.5"/>
<circle cx="342.3" cy="74.4" r="1.45" fill="#e07070" stroke="#d04a4a" stroke-width="0.5"/>
<circle cx="346.5" cy="74.4" r="1.45" fill="#e07070" stroke="#d04a4a" stroke-width="0.5"/>
<circle cx="350.6" cy="74.4" r="1.45" fill="#e07070" stroke="#d04a4a" stroke-width="0.5"/>
<circle cx="355.2" cy="72.7" r="1.45" fill="#e07070" stroke="#d04a4a" stroke-width="0.5"/>
<circle cx="360.5" cy="67.9" r="1.45" fill="#e07070" stroke="#d04a4a" stroke-width="0.5"/>
<circle cx="366.8" cy="61.3" r="1.45" fill="#e07070" stroke="#d04a4a" stroke-width="0.5"/>
<line x1="296.8" y1="80.3" x2="369.8" y2="80.3" stroke="#4caf50" stroke-width="0.9" />
<polygon points="296.8,78.8 296.4,79.75 295.37,79.84 296.16,80.51 295.92,81.51 296.8,80.97 297.68,81.51 297.44,80.51 298.23,79.84 297.2,79.75" fill="#7ed957" stroke="none" stroke-width="0" />
<polygon points="300.43,78.8 300.03,79.75 299,79.84 299.79,80.51 299.55,81.51 300.43,80.97 301.31,81.51 301.07,80.51 301.86,79.84 300.83,79.75" fill="#7ed957" stroke="none" stroke-width="0" />
<polygon points="304.06,78.8 303.66,79.75 302.63,79.84 303.42,80.51 303.18,81.51 304.06,80.97 304.94,81.51 304.7,80.51 305.49,79.84 304.46,79.75" fill="#7ed957" stroke="none" stroke-width="0" />
<polygon points="307.69,78.8 307.29,79.75 306.26,79.84 307.05,80.51 306.81,81.51 307.69,80.97 308.57,81.51 308.33,80.51 309.12,79.84 308.09,79.75" fill="#7ed957" stroke="none" stroke-width="0" />
<polygon points="311.32,78.8 310.92,79.75 309.89,79.84 310.68,80.51 310.44,81.51 311.32,80.97 312.2,81.51 311.96,80.51 312.75,79.84 311.72,79.75" fill="#7ed957" stroke="none" stroke-width="0" />
<polygon points="314.95,78.8 314.55,79.75 313.52,79.84 314.31,80.51 314.07,81.51 314.95,80.97 315.83,81.51 315.59,80.51 316.38,79.84 315.35,79.75" fill="#7ed957" stroke="none" stroke-width="0" />
<polygon points="318.58,78.8 318.18,79.75 317.15,79.84 317.94,80.51 317.7,81.51 318.58,80.97 319.46,81.51 319.22,80.51 320.01,79.84 318.98,79.75" fill="#7ed957" stroke="none" stroke-width="0" />
<polygon points="322.21,78.8 321.81,79.75 320.78,79.84 321.57,80.51 321.33,81.51 322.21,80.97 323.09,81.51 322.85,80.51 323.64,79.84 322.61,79.75" fill="#7ed957" stroke="none" stroke-width="0" />
<polygon points="325.84,78.8 325.44,79.75 324.41,79.84 325.2,80.51 324.96,81.51 325.84,80.97 326.72,81.51 326.48,80.51 327.27,79.84 326.24,79.75" fill="#7ed957" stroke="none" stroke-width="0" />
<polygon points="329.47,78.8 329.07,79.75 328.04,79.84 328.83,80.51 328.59,81.51 329.47,80.97 330.35,81.51 330.11,80.51 330.9,79.84 329.87,79.75" fill="#7ed957" stroke="none" stroke-width="0" />
<polygon points="333.1,78.8 332.7,79.75 331.67,79.84 332.46,80.51 332.22,81.51 333.1,80.97 333.98,81.51 333.74,80.51 334.53,79.84 333.5,79.75" fill="#7ed957" stroke="none" stroke-width="0" />
<polygon points="336.73,78.8 336.33,79.75 335.3,79.84 336.09,80.51 335.85,81.51 336.73,80.97 337.61,81.51 337.37,80.51 338.16,79.84 337.13,79.75" fill="#7ed957" stroke="none" stroke-width="0" />
<polygon points="340.36,78.8 339.96,79.75 338.93,79.84 339.72,80.51 339.48,81.51 340.36,80.97 341.24,81.51 341,80.51 341.79,79.84 340.76,79.75" fill="#7ed957" stroke="none" stroke-width="0" />
<polygon points="343.99,78.8 343.59,79.75 342.56,79.84 343.35,80.51 343.11,81.51 343.99,80.97 344.87,81.51 344.63,80.51 345.42,79.84 344.39,79.75" fill="#7ed957" stroke="none" stroke-width="0" />
<polygon points="347.62,78.8 347.22,79.75 346.19,79.84 346.98,80.51 346.74,81.51 347.62,80.97 348.5,81.51 348.26,80.51 349.05,79.84 348.02,79.75" fill="#7ed957" stroke="none" stroke-width="0" />
<polygon points="351.25,78.8 350.85,79.75 349.82,79.84 350.61,80.51 350.37,81.51 351.25,80.97 352.13,81.51 351.89,80.51 352.68,79.84 351.65,79.75" fill="#7ed957" stroke="none" stroke-width="0" />
<polygon points="354.88,78.8 354.48,79.75 353.45,79.84 354.24,80.51 354,81.51 354.88,80.97 355.76,81.51 355.52,80.51 356.31,79.84 355.28,79.75" fill="#7ed957" stroke="none" stroke-width="0" />
<polygon points="358.51,78.8 358.11,79.75 357.08,79.84 357.87,80.51 357.63,81.51 358.51,80.97 359.39,81.51 359.15,80.51 359.94,79.84 358.91,79.75" fill="#7ed957" stroke="none" stroke-width="0" />
<polygon points="362.14,78.8 361.74,79.75 360.71,79.84 361.5,80.51 361.26,81.51 362.14,80.97 363.02,81.51 362.78,80.51 363.57,79.84 362.54,79.75" fill="#7ed957" stroke="none" stroke-width="0" />
<polygon points="365.77,78.8 365.37,79.75 364.34,79.84 365.13,80.51 364.89,81.51 365.77,80.97 366.65,81.51 366.41,80.51 367.2,79.84 366.17,79.75" fill="#7ed957" stroke="none" stroke-width="0" />
<polygon points="369.4,78.8 369,79.75 367.97,79.84 368.76,80.51 368.52,81.51 369.4,80.97 370.28,81.51 370.04,80.51 370.83,79.84 369.8,79.75" fill="#7ed957" stroke="none" stroke-width="0" />
<polygon points="411.8,27.25 402.97,32.35 402.97,42.55 411.8,47.65 420.63,42.55 420.63,32.35" fill="#0f7d70" stroke="none" stroke-width="0" />
<polygon points="402.97,42.55 394.13,47.65 394.13,57.85 402.97,62.95 411.8,57.85 411.8,47.65" fill="#0f7d70" stroke="none" stroke-width="0" />
<polygon points="420.63,42.55 411.8,47.65 411.8,57.85 420.63,62.95 429.47,57.85 429.47,47.65" fill="#0f7d70" stroke="none" stroke-width="0" />
<polygon points="411.8,25.65 402.97,30.75 402.97,40.95 411.8,46.05 420.63,40.95 420.63,30.75" fill="#2bbaa8" stroke="#1a9c8c" stroke-width="0.5" />
<polygon points="402.97,40.95 394.13,46.05 394.13,56.25 402.97,61.35 411.8,56.25 411.8,46.05" fill="#2bbaa8" stroke="#1a9c8c" stroke-width="0.5" />
<polygon points="420.63,40.95 411.8,46.05 411.8,56.25 420.63,61.35 429.47,56.25 429.47,46.05" fill="#2bbaa8" stroke="#1a9c8c" stroke-width="0.5" />
<clipPath id="hx1"><polygon points="411.8,28.3 405.26,32.08 405.26,39.62 411.8,43.4 418.34,39.62 418.34,32.08"/></clipPath>
<g clip-path="url(#hx1)">
<rect x="404.25" y="28.3" width="7.55" height="15.1" fill="#0b5a51" />
<rect x="411.8" y="28.3" width="7.55" height="15.1" fill="#14907f" />
<polygon points="411.8,35.25 405.26,39.02 405.26,46.57 411.8,50.34 418.34,46.57 418.34,39.02" fill="#ffffff" stroke="none" stroke-width="0" />
</g>
<clipPath id="hx2"><polygon points="402.97,43.6 396.43,47.38 396.43,54.92 402.97,58.7 409.5,54.92 409.5,47.38"/></clipPath>
<g clip-path="url(#hx2)">
<rect x="395.42" y="43.6" width="7.55" height="15.1" fill="#0a3833" />
<rect x="402.97" y="43.6" width="7.55" height="15.1" fill="#14907f" />
<polygon points="402.97,48.89 396.43,52.66 396.43,60.21 402.97,63.98 409.5,60.21 409.5,52.66" fill="#ffffff" stroke="none" stroke-width="0" />
</g>
<clipPath id="hx3"><polygon points="420.63,43.6 414.1,47.38 414.1,54.92 420.63,58.7 427.17,54.92 427.17,47.38"/></clipPath>
<g clip-path="url(#hx3)">
<rect x="413.09" y="43.6" width="7.55" height="15.1" fill="#0b5a51" />
<rect x="420.63" y="43.6" width="7.55" height="15.1" fill="#14907f" />
<polygon points="420.63,48.89 414.1,52.66 414.1,60.21 420.63,63.98 427.17,60.21 427.17,52.66" fill="#ffffff" stroke="none" stroke-width="0" />
</g>
<text x="412.4" y="72.7" font-size="9.1" font-weight="bold" fill="#e0731f" text-anchor="start" >MSN</text>
<line x1="419" y1="76.2" x2="424.5" y2="81.8" stroke="#d9691a" stroke-width="1.0" />
<polygon points="380.6,113.05 371.77,118.15 371.77,128.35 380.6,133.45 389.43,128.35 389.43,118.15" fill="#0f7d70" stroke="none" stroke-width="0" />
<polygon points="371.77,128.35 362.93,133.45 362.93,143.65 371.77,148.75 380.6,143.65 380.6,133.45" fill="#0f7d70" stroke="none" stroke-width="0" />
<polygon points="389.43,128.35 380.6,133.45 380.6,143.65 389.43,148.75 398.27,143.65 398.27,133.45" fill="#0f7d70" stroke="none" stroke-width="0" />
<polygon points="380.6,111.45 371.77,116.55 371.77,126.75 380.6,131.85 389.43,126.75 389.43,116.55" fill="#2bbaa8" stroke="#1a9c8c" stroke-width="0.5" />
<polygon points="371.77,126.75 362.93,131.85 362.93,142.05 371.77,147.15 380.6,142.05 380.6,131.85" fill="#2bbaa8" stroke="#1a9c8c" stroke-width="0.5" />
<polygon points="389.43,126.75 380.6,131.85 380.6,142.05 389.43,147.15 398.27,142.05 398.27,131.85" fill="#2bbaa8" stroke="#1a9c8c" stroke-width="0.5" />
<clipPath id="hx4"><polygon points="380.6,114.1 374.06,117.88 374.06,125.42 380.6,129.2 387.14,125.42 387.14,117.88"/></clipPath>
<g clip-path="url(#hx4)">
<rect x="373.05" y="114.1" width="7.55" height="15.1" fill="#0b5a51" />
<rect x="380.6" y="114.1" width="7.55" height="15.1" fill="#14907f" />
<polygon points="380.6,121.05 374.06,124.82 374.06,132.37 380.6,136.14 387.14,132.37 387.14,124.82" fill="#123f3a" stroke="none" stroke-width="0" />
<line x1="380.98" y1="123.31" x2="386.82" y2="124.03" stroke="#e6d24a" stroke-width="0.5" />
<line x1="380.98" y1="123.31" x2="387.02" y2="126.73" stroke="#e6d24a" stroke-width="0.5" />
<line x1="380.98" y1="123.31" x2="384.6" y2="127.95" stroke="#e6d24a" stroke-width="0.5" />
<line x1="380.98" y1="123.31" x2="382.83" y2="130" stroke="#e6d24a" stroke-width="0.5" />
<line x1="380.98" y1="123.31" x2="380.26" y2="129.15" stroke="#e6d24a" stroke-width="0.5" />
<line x1="380.98" y1="123.31" x2="377.56" y2="129.35" stroke="#e6d24a" stroke-width="0.5" />
<line x1="380.98" y1="123.31" x2="376.34" y2="126.94" stroke="#e6d24a" stroke-width="0.5" />
<line x1="380.98" y1="123.31" x2="374.29" y2="125.17" stroke="#e6d24a" stroke-width="0.5" />
<line x1="380.98" y1="123.31" x2="375.13" y2="122.59" stroke="#e6d24a" stroke-width="0.5" />
<line x1="380.98" y1="123.31" x2="374.93" y2="119.89" stroke="#e6d24a" stroke-width="0.5" />
<line x1="380.98" y1="123.31" x2="377.35" y2="118.67" stroke="#e6d24a" stroke-width="0.5" />
<line x1="380.98" y1="123.31" x2="379.12" y2="116.62" stroke="#e6d24a" stroke-width="0.5" />
<line x1="380.98" y1="123.31" x2="381.69" y2="117.47" stroke="#e6d24a" stroke-width="0.5" />
<line x1="380.98" y1="123.31" x2="384.4" y2="117.27" stroke="#e6d24a" stroke-width="0.5" />
<line x1="380.98" y1="123.31" x2="385.62" y2="119.69" stroke="#e6d24a" stroke-width="0.5" />
<line x1="380.98" y1="123.31" x2="387.67" y2="121.45" stroke="#e6d24a" stroke-width="0.5" />
<circle cx="380.98" cy="123.31" r="5.28" fill="url(#fuzz)"/>
</g>
<clipPath id="hx5"><polygon points="371.77,129.4 365.23,133.18 365.23,140.72 371.77,144.5 378.3,140.72 378.3,133.18"/></clipPath>
<g clip-path="url(#hx5)">
<rect x="364.22" y="129.4" width="7.55" height="15.1" fill="#0a3833" />
<rect x="371.77" y="129.4" width="7.55" height="15.1" fill="#14907f" />
<polygon points="371.77,134.69 365.23,138.46 365.23,146.01 371.77,149.78 378.3,146.01 378.3,138.46" fill="#123f3a" stroke="none" stroke-width="0" />
<line x1="372.14" y1="138.61" x2="377.99" y2="139.33" stroke="#e6d24a" stroke-width="0.5" />
<line x1="372.14" y1="138.61" x2="378.19" y2="142.03" stroke="#e6d24a" stroke-width="0.5" />
<line x1="372.14" y1="138.61" x2="375.77" y2="143.25" stroke="#e6d24a" stroke-width="0.5" />
<line x1="372.14" y1="138.61" x2="374" y2="145.3" stroke="#e6d24a" stroke-width="0.5" />
<line x1="372.14" y1="138.61" x2="371.43" y2="144.45" stroke="#e6d24a" stroke-width="0.5" />
<line x1="372.14" y1="138.61" x2="368.72" y2="144.65" stroke="#e6d24a" stroke-width="0.5" />
<line x1="372.14" y1="138.61" x2="367.5" y2="142.24" stroke="#e6d24a" stroke-width="0.5" />
<line x1="372.14" y1="138.61" x2="365.45" y2="140.47" stroke="#e6d24a" stroke-width="0.5" />
<line x1="372.14" y1="138.61" x2="366.3" y2="137.89" stroke="#e6d24a" stroke-width="0.5" />
<line x1="372.14" y1="138.61" x2="366.1" y2="135.19" stroke="#e6d24a" stroke-width="0.5" />
<line x1="372.14" y1="138.61" x2="368.52" y2="133.97" stroke="#e6d24a" stroke-width="0.5" />
<line x1="372.14" y1="138.61" x2="370.29" y2="131.92" stroke="#e6d24a" stroke-width="0.5" />
<line x1="372.14" y1="138.61" x2="372.86" y2="132.77" stroke="#e6d24a" stroke-width="0.5" />
<line x1="372.14" y1="138.61" x2="375.56" y2="132.57" stroke="#e6d24a" stroke-width="0.5" />
<line x1="372.14" y1="138.61" x2="376.78" y2="134.99" stroke="#e6d24a" stroke-width="0.5" />
<line x1="372.14" y1="138.61" x2="378.84" y2="136.75" stroke="#e6d24a" stroke-width="0.5" />
<circle cx="372.14" cy="138.61" r="5.28" fill="url(#fuzz)"/>
</g>
<clipPath id="hx6"><polygon points="389.43,129.4 382.9,133.18 382.9,140.72 389.43,144.5 395.97,140.72 395.97,133.18"/></clipPath>
<g clip-path="url(#hx6)">
<rect x="381.89" y="129.4" width="7.55" height="15.1" fill="#0b5a51" />
<rect x="389.43" y="129.4" width="7.55" height="15.1" fill="#14907f" />
<polygon points="389.43,134.69 382.9,138.46 382.9,146.01 389.43,149.78 395.97,146.01 395.97,138.46" fill="#123f3a" stroke="none" stroke-width="0" />
<line x1="389.81" y1="138.61" x2="395.65" y2="139.33" stroke="#e6d24a" stroke-width="0.5" />
<line x1="389.81" y1="138.61" x2="395.85" y2="142.03" stroke="#e6d24a" stroke-width="0.5" />
<line x1="389.81" y1="138.61" x2="393.44" y2="143.25" stroke="#e6d24a" stroke-width="0.5" />
<line x1="389.81" y1="138.61" x2="391.67" y2="145.3" stroke="#e6d24a" stroke-width="0.5" />
<line x1="389.81" y1="138.61" x2="389.09" y2="144.45" stroke="#e6d24a" stroke-width="0.5" />
<line x1="389.81" y1="138.61" x2="386.39" y2="144.65" stroke="#e6d24a" stroke-width="0.5" />
<line x1="389.81" y1="138.61" x2="385.17" y2="142.24" stroke="#e6d24a" stroke-width="0.5" />
<line x1="389.81" y1="138.61" x2="383.12" y2="140.47" stroke="#e6d24a" stroke-width="0.5" />
<line x1="389.81" y1="138.61" x2="383.97" y2="137.89" stroke="#e6d24a" stroke-width="0.5" />
<line x1="389.81" y1="138.61" x2="383.77" y2="135.19" stroke="#e6d24a" stroke-width="0.5" />
<line x1="389.81" y1="138.61" x2="386.19" y2="133.97" stroke="#e6d24a" stroke-width="0.5" />
<line x1="389.81" y1="138.61" x2="387.96" y2="131.92" stroke="#e6d24a" stroke-width="0.5" />
<line x1="389.81" y1="138.61" x2="390.53" y2="132.77" stroke="#e6d24a" stroke-width="0.5" />
<line x1="389.81" y1="138.61" x2="393.23" y2="132.57" stroke="#e6d24a" stroke-width="0.5" />
<line x1="389.81" y1="138.61" x2="394.45" y2="134.99" stroke="#e6d24a" stroke-width="0.5" />
<line x1="389.81" y1="138.61" x2="396.5" y2="136.75" stroke="#e6d24a" stroke-width="0.5" />
<circle cx="389.81" cy="138.61" r="5.28" fill="url(#fuzz)"/>
</g>
<text x="402.8" y="139.1" font-size="9.2" font-weight="bold" fill="#38a238" text-anchor="start" >MSN-TA</text>
<line x1="421.5" y1="141.2" x2="427.2" y2="146.7" stroke="#2e8b2e" stroke-width="1.0" />
<rect x="508" y="8.8" width="169.6" height="155.4" fill="#fdebed" />
<line x1="508" y1="12.37" x2="677.6" y2="12.37" stroke="#888" stroke-width="0.7" stroke-dasharray="1,1"/>
<line x1="505.8" y1="48.4" x2="677.6" y2="48.4" stroke="#4a9a90" stroke-width="0.8" stroke-dasharray="1.2,2"/>
<line x1="506.7" y1="148.5" x2="677.6" y2="148.5" stroke="#eb9a62" stroke-width="0.8" stroke-dasharray="1.2,2"/>
<line x1="508" y1="148" x2="508" y2="164.2" stroke="#888" stroke-width="0.7" stroke-dasharray="1.2,1"/>
<path d="M491.8,8.3 C494.83,8.35 503.63,8.48 510,8.6 C516.37,8.72 522.5,8.83 530,9 C537.5,9.17 546.67,9.38 555,9.6 C563.33,9.82 570.83,10.03 580,10.3 C589.17,10.57 600,10.9 610,11.2 C620,11.5 631.67,11.83 640,12.1 C648.33,12.37 653.77,12.62 660,12.8 C666.23,12.98 674.5,13.13 677.4,13.2" stroke="#555" stroke-width="0.9" fill="none" />
<path d="M491.6,9.5 C492.33,10.05 494.4,11.68 496,12.8 C497.6,13.92 499.13,15.07 501.2,16.2 C503.27,17.33 505.85,18.72 508.4,19.6 C510.95,20.48 512.58,20.8 516.5,21.5 C520.42,22.2 526.57,23.07 531.9,23.8 C537.23,24.53 543.88,25.15 548.5,25.9 C553.12,26.65 555.35,27.35 559.6,28.3 C563.85,29.25 568.43,30.38 574,31.6 C579.57,32.82 586.67,34.27 593,35.6 C599.33,36.93 605.68,38.43 612,39.6 C618.32,40.77 624.58,41.62 630.9,42.6 C637.22,43.58 644.22,44.77 649.9,45.5 C655.58,46.23 660.42,46.62 665,47 C669.58,47.38 675.33,47.67 677.4,47.8" stroke="#33b26e" stroke-width="1.1" fill="none" />
<path d="M491.9,8 C493.45,8.15 498.45,8.22 501.2,8.9 C503.95,9.58 505.85,11.05 508.4,12.1 C510.95,13.15 513.87,14.28 516.5,15.2 C519.13,16.12 521.95,16.93 524.2,17.6 C526.45,18.27 528.2,18.73 530,19.2 C531.8,19.67 533.47,19.97 535,20.4 C536.53,20.83 537.92,21.33 539.2,21.8 C540.48,22.27 541.67,22.68 542.7,23.2 C543.73,23.72 544.6,24.27 545.4,24.9 C546.2,25.53 546.88,26.27 547.5,27 C548.12,27.73 548.55,28.27 549.1,29.3 C549.65,30.33 550.28,31.78 550.8,33.2 C551.32,34.62 551.57,35.25 552.2,37.8 C552.83,40.35 553.68,44.17 554.6,48.5 C555.52,52.83 556.67,58.68 557.7,63.8 C558.73,68.92 559.67,74.32 560.8,79.2 C561.93,84.08 563.22,89 564.5,93.1 C565.78,97.2 566.82,100.47 568.5,103.8 C570.18,107.13 572.3,110.57 574.6,113.1 C576.9,115.63 579.73,117.32 582.3,119 C584.87,120.68 587.05,121.87 590,123.2 C592.95,124.53 596.95,125.87 600,127 C603.05,128.13 604.97,128.8 608.3,130 C611.63,131.2 615.67,132.67 620,134.2 C624.33,135.73 628.8,137.62 634.3,139.2 C639.8,140.78 647.88,142.6 653,143.7 C658.12,144.8 660.97,145.15 665,145.8 C669.03,146.45 675.17,147.3 677.2,147.6" stroke="#f0823c" stroke-width="1.1" fill="none" />
<line x1="508" y1="8.8" x2="508" y2="12" stroke="#999" stroke-width="0.7" />
<line x1="508" y1="13.5" x2="508" y2="19.5" stroke="#e0702c" stroke-width="0.9" />
<line x1="508" y1="47.5" x2="508" y2="146.5" stroke="#e0702c" stroke-width="0.9" />
<polygon points="508,12.6 509.44,15.8 506.56,15.8" fill="#e0702c" stroke="none" stroke-width="0" />
<polygon points="508,148 506.56,144.8 509.44,144.8" fill="#e0702c" stroke="none" stroke-width="0" />
<line x1="508" y1="20.5" x2="508" y2="46.5" stroke="#45ad4a" stroke-width="1.0" />
<polygon points="508,19.2 509.35,22.2 506.65,22.2" fill="#45ad4a" stroke="none" stroke-width="0" />
<polygon points="508,47.6 506.65,44.6 509.35,44.6" fill="#45ad4a" stroke="none" stroke-width="0" />
<line x1="540.4" y1="14.3" x2="535.5" y2="11.6" stroke="#333" stroke-width="0.7" />
<polygon points="534,10.9 536.73,11.12 535.65,13.09" fill="#333" stroke="none" stroke-width="0" />
<rect x="491.6" y="8.2" width="186" height="156" fill="none" stroke="#3c3c3c" stroke-width="1.2"/>
<line x1="532.23" y1="164.2" x2="532.23" y2="167.2" stroke="#3c3c3c" stroke-width="1" />
<text x="0" y="0" transform="translate(532.23,177.3) scale(1,1.06)" font-size="9.2" font-weight="normal" fill="#222" text-anchor="middle" >200</text>
<line x1="580.69" y1="164.2" x2="580.69" y2="167.2" stroke="#3c3c3c" stroke-width="1" />
<text x="0" y="0" transform="translate(580.69,177.3) scale(1,1.06)" font-size="9.2" font-weight="normal" fill="#222" text-anchor="middle" >400</text>
<line x1="629.15" y1="164.2" x2="629.15" y2="167.2" stroke="#3c3c3c" stroke-width="1" />
<text x="0" y="0" transform="translate(629.15,177.3) scale(1,1.06)" font-size="9.2" font-weight="normal" fill="#222" text-anchor="middle" >600</text>
<line x1="677.61" y1="164.2" x2="677.61" y2="167.2" stroke="#3c3c3c" stroke-width="1" />
<text x="0" y="0" transform="translate(677.61,177.3) scale(1,1.06)" font-size="9.2" font-weight="normal" fill="#222" text-anchor="middle" >800</text>
<line x1="508" y1="164.2" x2="508" y2="166.2" stroke="#3c3c3c" stroke-width="1" />
<line x1="556.46" y1="164.2" x2="556.46" y2="166.2" stroke="#3c3c3c" stroke-width="1" />
<line x1="604.92" y1="164.2" x2="604.92" y2="166.2" stroke="#3c3c3c" stroke-width="1" />
<line x1="653.38" y1="164.2" x2="653.38" y2="166.2" stroke="#3c3c3c" stroke-width="1" />
<line x1="488.6" y1="164.2" x2="491.6" y2="164.2" stroke="#3c3c3c" stroke-width="1" />
<text x="0" y="0" transform="translate(487.2,167.2) scale(1,1.06)" font-size="9.2" font-weight="normal" fill="#222" text-anchor="end" >0</text>
<line x1="488.6" y1="132.96" x2="491.6" y2="132.96" stroke="#3c3c3c" stroke-width="1" />
<text x="0" y="0" transform="translate(487.2,135.96) scale(1,1.06)" font-size="9.2" font-weight="normal" fill="#222" text-anchor="end" >20</text>
<line x1="488.6" y1="101.72" x2="491.6" y2="101.72" stroke="#3c3c3c" stroke-width="1" />
<text x="0" y="0" transform="translate(487.2,104.72) scale(1,1.06)" font-size="9.2" font-weight="normal" fill="#222" text-anchor="end" >40</text>
<line x1="488.6" y1="70.48" x2="491.6" y2="70.48" stroke="#3c3c3c" stroke-width="1" />
<text x="0" y="0" transform="translate(487.2,73.48) scale(1,1.06)" font-size="9.2" font-weight="normal" fill="#222" text-anchor="end" >60</text>
<line x1="488.6" y1="39.24" x2="491.6" y2="39.24" stroke="#3c3c3c" stroke-width="1" />
<text x="0" y="0" transform="translate(487.2,42.24) scale(1,1.06)" font-size="9.2" font-weight="normal" fill="#222" text-anchor="end" >80</text>
<line x1="488.6" y1="8" x2="491.6" y2="8" stroke="#3c3c3c" stroke-width="1" />
<text x="0" y="0" transform="translate(487.2,11) scale(1,1.06)" font-size="9.2" font-weight="normal" fill="#222" text-anchor="end" >100</text>
<line x1="489.6" y1="148.58" x2="491.6" y2="148.58" stroke="#3c3c3c" stroke-width="1" />
<line x1="489.6" y1="117.34" x2="491.6" y2="117.34" stroke="#3c3c3c" stroke-width="1" />
<line x1="489.6" y1="86.1" x2="491.6" y2="86.1" stroke="#3c3c3c" stroke-width="1" />
<line x1="489.6" y1="54.86" x2="491.6" y2="54.86" stroke="#3c3c3c" stroke-width="1" />
<line x1="489.6" y1="23.62" x2="491.6" y2="23.62" stroke="#3c3c3c" stroke-width="1" />
<text x="584.5" y="191.5" font-size="11" font-weight="bold" fill="#111" text-anchor="middle" >Temperature (°C)</text>
<text x="0" y="0" font-size="11" font-weight="bold" fill="#111" text-anchor="middle" transform="translate(467.6,81.3) rotate(-90)">Weight loss (%)</text>
<text x="459.8" y="12" font-size="15" font-weight="bold" fill="#000" text-anchor="start" >c</text>
<text x="0" y="0" transform="translate(542.4,20.3) scale(1,1.2)" font-size="8.8" font-weight="normal" fill="#4a4a4a" text-anchor="start" >3%</text>
<text x="0" y="0" transform="translate(511.2,40.9) scale(1,1.18)" font-size="8.8" font-weight="bold" fill="#2f9a3c" text-anchor="start" >19.5 %</text>
<text x="0" y="0" transform="translate(509.8,96.8) scale(1,1.18)" font-size="8.8" font-weight="bold" fill="#e0702c" text-anchor="start" >87 %</text>
<line x1="613.2" y1="73" x2="633.6" y2="73" stroke="#f0823c" stroke-width="1.1" />
<line x1="613.2" y1="84.6" x2="633.6" y2="84.6" stroke="#555" stroke-width="1.0" />
<line x1="613.2" y1="96.1" x2="633.6" y2="96.1" stroke="#33b26e" stroke-width="1.1" />
<text x="0" y="0" transform="translate(637,76.1) scale(1,1.05)" font-size="9.1" font-weight="bold" fill="#e0702c" text-anchor="start" >TA</text>
<text x="0" y="0" transform="translate(637,87.7) scale(1,1.05)" font-size="9.1" font-weight="bold" fill="#333" text-anchor="start" >MSN</text>
<text x="0" y="0" transform="translate(637,99.2) scale(1,1.05)" font-size="9.1" font-weight="bold" fill="#2a9a3a" text-anchor="start" >MSN-TA</text>
<defs><clipPath id="cd"><rect x="34.6" y="201.5" width="185.8" height="156.6"/></clipPath></defs>
<g clip-path="url(#cd)">
<path d="M34.5,347.14 C34.89,347.99 36.12,350.93 36.81,352.22 C37.51,353.52 37.82,355.27 38.67,354.91 C39.52,354.55 40.83,351.16 41.91,350.04 C42.99,348.93 43.91,348.29 45.15,348.23 C46.38,348.17 47.77,349.2 49.32,349.68 C50.86,350.16 52.4,351.01 54.41,351.13 C56.42,351.25 58.96,350.66 61.35,350.41 C63.75,350.15 65.91,349.67 68.76,349.61 C71.62,349.55 74.94,349.75 78.48,350.04 C82.03,350.33 86.2,350.87 90.06,351.35 C93.92,351.83 97.78,352.52 101.64,352.95 C105.49,353.37 107.42,353.65 113.21,353.89 C119,354.13 118.61,354.32 136.36,354.4 C154.11,354.48 205.81,354.4 219.7,354.4" stroke="#f7d36a" stroke-width="1.0" fill="none" />
<path d="M34.5,340.61 C34.81,341.94 35.73,346.53 36.35,348.59 C36.97,350.65 37.43,353.43 38.2,352.95 C38.98,352.46 39.9,347.6 40.98,345.69 C42.06,343.78 43.45,341.72 44.69,341.48 C45.92,341.24 46.77,343.11 48.39,344.24 C50.01,345.36 52.4,347.68 54.41,348.23 C56.42,348.77 58.04,347.81 60.43,347.5 C62.82,347.2 66.14,346.47 68.76,346.41 C71.39,346.35 73.39,346.75 76.17,347.14 C78.95,347.53 82.34,348.07 85.43,348.74 C88.52,349.4 91.6,350.41 94.69,351.13 C97.78,351.86 100.86,352.62 103.95,353.09 C107.04,353.57 107.81,353.75 113.21,353.96 C118.61,354.18 118.61,354.33 136.36,354.4 C154.11,354.47 205.81,354.4 219.7,354.4" stroke="#f7b571" stroke-width="1.0" fill="none" />
<path d="M34.5,326.96 C34.81,327.9 35.81,330.83 36.35,332.62 C36.89,334.41 37.05,337.94 37.74,337.7 C38.44,337.46 39.59,332.96 40.52,331.17 C41.45,329.38 42.37,327.08 43.3,326.96 C44.22,326.84 44.99,328.29 46.08,330.44 C47.16,332.6 48.39,337.7 49.78,339.88 C51.17,342.06 52.71,343.09 54.41,343.51 C56.11,343.93 58.34,342.97 59.97,342.42 C61.59,341.88 62.67,340.75 64.13,340.24 C65.6,339.73 67.06,339.37 68.76,339.37 C70.46,339.37 72.2,339.8 74.32,340.24 C76.44,340.69 79.18,341.27 81.49,342.06 C83.81,342.84 85.81,343.92 88.21,344.96 C90.61,346 93.73,347.33 95.89,348.3 C98.05,349.27 99.44,350.12 101.17,350.77 C102.9,351.42 104.26,351.76 106.27,352.22 C108.27,352.68 109.74,353.21 113.21,353.53 C116.68,353.84 120.93,353.96 127.1,354.11 C133.27,354.25 134.82,354.35 150.25,354.4 C165.68,354.45 208.12,354.4 219.7,354.4" stroke="#f0927a" stroke-width="1.0" fill="none" />
<path d="M34.5,302.85 C34.89,303.34 35.97,306.24 36.81,305.76 C37.66,305.27 38.67,301.7 39.59,299.95 C40.52,298.2 41.52,295.35 42.37,295.23 C43.22,295.11 43.84,296.02 44.69,299.22 C45.53,302.43 46.38,309.27 47.46,314.47 C48.54,319.67 49.86,326.74 51.17,330.44 C52.48,334.14 53.95,335.96 55.34,336.69 C56.72,337.41 58.11,335.96 59.5,334.8 C60.89,333.64 62.13,331.17 63.67,329.72 C65.21,328.26 67.06,326.45 68.76,326.09 C70.46,325.72 71.73,326.52 73.86,327.54 C75.98,328.55 79.33,330.67 81.49,332.18 C83.66,333.7 85.02,335.09 86.82,336.61 C88.62,338.14 90.58,339.82 92.28,341.33 C93.98,342.84 95.5,344.36 97,345.69 C98.51,347.02 99.69,348.27 101.31,349.32 C102.93,350.37 104.74,351.34 106.73,352 C108.71,352.67 109.81,352.97 113.21,353.31 C116.61,353.65 120.93,353.86 127.1,354.04 C133.27,354.22 134.82,354.34 150.25,354.4 C165.68,354.46 208.12,354.4 219.7,354.4" stroke="#e46b8a" stroke-width="1.0" fill="none" />
<path d="M34.5,254.21 C34.89,252.76 36.04,248.89 36.81,245.5 C37.59,242.11 38.36,236.42 39.13,233.88 C39.9,231.34 40.75,229.77 41.45,230.25 C42.14,230.74 42.6,231.83 43.3,236.79 C43.99,241.75 44.76,250.7 45.61,260.02 C46.46,269.34 47.39,283.25 48.39,292.69 C49.39,302.13 50.47,310.96 51.63,316.65 C52.79,322.33 54.18,325.6 55.34,326.81 C56.49,328.02 57.42,326.09 58.58,323.91 C59.73,321.73 61.12,317.25 62.28,313.74 C63.44,310.23 64.44,305.27 65.52,302.85 C66.6,300.43 67.68,299.65 68.76,299.22 C69.84,298.8 70.46,299.47 72,300.31 C73.55,301.16 76.13,302.43 78.02,304.31 C79.91,306.18 81.57,308.87 83.35,311.57 C85.12,314.26 86.88,317.35 88.67,320.5 C90.46,323.64 92.44,327.3 94.09,330.44 C95.74,333.59 97.07,336.53 98.58,339.37 C100.08,342.22 101.76,345.57 103.12,347.5 C104.47,349.44 104.93,350.1 106.73,350.99 C108.53,351.87 110.51,352.36 113.9,352.8 C117.3,353.25 121.04,353.46 127.1,353.67 C133.16,353.89 142.53,353.99 150.25,354.11 C157.97,354.23 161.82,354.35 173.4,354.4 C184.98,354.45 211.98,354.4 219.7,354.4" stroke="#cc55a8" stroke-width="1.0" fill="none" />
</g>
<line x1="69.7" y1="240.8" x2="69.7" y2="358.1" stroke="#b83a5e" stroke-width="0.9" stroke-dasharray="3.2,1.4,0.7,1.4"/>
<text x="56" y="239.2" font-size="8.4" font-weight="bold" fill="#111" text-anchor="start" >274 nm</text>
<rect x="34.6" y="201.5" width="185.8" height="156.6" fill="none" stroke="#3c3c3c" stroke-width="1.2"/>
<line x1="34.5" y1="358.1" x2="34.5" y2="361.1" stroke="#3c3c3c" stroke-width="1" />
<text x="0" y="0" transform="translate(34.5,370.6) scale(1,1.06)" font-size="9.2" font-weight="normal" fill="#222" text-anchor="middle" >200</text>
<line x1="80.8" y1="358.1" x2="80.8" y2="361.1" stroke="#3c3c3c" stroke-width="1" />
<text x="0" y="0" transform="translate(80.8,370.6) scale(1,1.06)" font-size="9.2" font-weight="normal" fill="#222" text-anchor="middle" >300</text>
<line x1="127.1" y1="358.1" x2="127.1" y2="361.1" stroke="#3c3c3c" stroke-width="1" />
<text x="0" y="0" transform="translate(127.1,370.6) scale(1,1.06)" font-size="9.2" font-weight="normal" fill="#222" text-anchor="middle" >400</text>
<line x1="173.4" y1="358.1" x2="173.4" y2="361.1" stroke="#3c3c3c" stroke-width="1" />
<text x="0" y="0" transform="translate(173.4,370.6) scale(1,1.06)" font-size="9.2" font-weight="normal" fill="#222" text-anchor="middle" >500</text>
<line x1="219.7" y1="358.1" x2="219.7" y2="361.1" stroke="#3c3c3c" stroke-width="1" />
<text x="0" y="0" transform="translate(219.7,370.6) scale(1,1.06)" font-size="9.2" font-weight="normal" fill="#222" text-anchor="middle" >600</text>
<line x1="57.65" y1="358.1" x2="57.65" y2="360.1" stroke="#3c3c3c" stroke-width="1" />
<line x1="103.95" y1="358.1" x2="103.95" y2="360.1" stroke="#3c3c3c" stroke-width="1" />
<line x1="150.25" y1="358.1" x2="150.25" y2="360.1" stroke="#3c3c3c" stroke-width="1" />
<line x1="196.55" y1="358.1" x2="196.55" y2="360.1" stroke="#3c3c3c" stroke-width="1" />
<line x1="31.6" y1="354.4" x2="34.6" y2="354.4" stroke="#3c3c3c" stroke-width="1" />
<text x="0" y="0" transform="translate(29.3,357.4) scale(1,1.06)" font-size="9.2" font-weight="normal" fill="#222" text-anchor="end" >0.0</text>
<line x1="31.6" y1="318.1" x2="34.6" y2="318.1" stroke="#3c3c3c" stroke-width="1" />
<text x="0" y="0" transform="translate(29.3,321.1) scale(1,1.06)" font-size="9.2" font-weight="normal" fill="#222" text-anchor="end" >0.5</text>
<line x1="31.6" y1="281.8" x2="34.6" y2="281.8" stroke="#3c3c3c" stroke-width="1" />
<text x="0" y="0" transform="translate(29.3,284.8) scale(1,1.06)" font-size="9.2" font-weight="normal" fill="#222" text-anchor="end" >1.0</text>
<line x1="31.6" y1="245.5" x2="34.6" y2="245.5" stroke="#3c3c3c" stroke-width="1" />
<text x="0" y="0" transform="translate(29.3,248.5) scale(1,1.06)" font-size="9.2" font-weight="normal" fill="#222" text-anchor="end" >1.5</text>
<line x1="31.6" y1="209.2" x2="34.6" y2="209.2" stroke="#3c3c3c" stroke-width="1" />
<text x="0" y="0" transform="translate(29.3,212.2) scale(1,1.06)" font-size="9.2" font-weight="normal" fill="#222" text-anchor="end" >2.0</text>
<line x1="32.6" y1="336.25" x2="34.6" y2="336.25" stroke="#3c3c3c" stroke-width="1" />
<line x1="32.6" y1="299.95" x2="34.6" y2="299.95" stroke="#3c3c3c" stroke-width="1" />
<line x1="32.6" y1="263.65" x2="34.6" y2="263.65" stroke="#3c3c3c" stroke-width="1" />
<line x1="32.6" y1="227.35" x2="34.6" y2="227.35" stroke="#3c3c3c" stroke-width="1" />
<text x="127.7" y="384.4" font-size="10.7" font-weight="bold" fill="#111" text-anchor="middle" >Wavelength (nm)</text>
<text x="0" y="0" font-size="10.7" font-weight="bold" fill="#111" text-anchor="middle" transform="translate(9.2,275.2) rotate(-90)">Absorption (a.u.)</text>
<text x="0.5" y="208" font-size="15" font-weight="bold" fill="#000" text-anchor="start" >d</text>
<line x1="64.5" y1="208.1" x2="83.5" y2="208.1" stroke="#f7d36a" stroke-width="1.1" />
<text x="85.5" y="211.1" font-size="8.5" font-weight="bold" fill="#111" text-anchor="start" >1.25ppm</text>
<line x1="122.8" y1="208.1" x2="141.8" y2="208.1" stroke="#f7b571" stroke-width="1.1" />
<text x="143.9" y="211.1" font-size="8.5" font-weight="bold" fill="#111" text-anchor="start" >2.5ppm</text>
<line x1="176" y1="208.1" x2="195" y2="208.1" stroke="#f0927a" stroke-width="1.1" />
<text x="197" y="211.1" font-size="8.5" font-weight="bold" fill="#111" text-anchor="start" >5ppm</text>
<line x1="64.5" y1="218.4" x2="83.5" y2="218.4" stroke="#e46b8a" stroke-width="1.1" />
<text x="85.5" y="221.4" font-size="8.5" font-weight="bold" fill="#111" text-anchor="start" >10ppm</text>
<line x1="122.8" y1="218.4" x2="141.8" y2="218.4" stroke="#cc55a8" stroke-width="1.1" />
<text x="143.9" y="221.4" font-size="8.5" font-weight="bold" fill="#111" text-anchor="start" >20ppm</text>
<rect x="118" y="246.2" width="91.4" height="78.8" fill="#fff" stroke="#666" stroke-width="1"/>
<line x1="116" y1="324.3" x2="118" y2="324.3" stroke="#555" stroke-width="0.8" />
<text x="115.2" y="326.5" font-size="6.3" font-weight="normal" fill="#222" text-anchor="end" >0.0</text>
<line x1="116" y1="305" x2="118" y2="305" stroke="#555" stroke-width="0.8" />
<text x="115.2" y="307.2" font-size="6.3" font-weight="normal" fill="#222" text-anchor="end" >0.2</text>
<line x1="116" y1="285.7" x2="118" y2="285.7" stroke="#555" stroke-width="0.8" />
<text x="115.2" y="287.9" font-size="6.3" font-weight="normal" fill="#222" text-anchor="end" >0.4</text>
<line x1="116" y1="266.4" x2="118" y2="266.4" stroke="#555" stroke-width="0.8" />
<text x="115.2" y="268.6" font-size="6.3" font-weight="normal" fill="#222" text-anchor="end" >0.6</text>
<line x1="116" y1="247.1" x2="118" y2="247.1" stroke="#555" stroke-width="0.8" />
<text x="115.2" y="249.3" font-size="6.3" font-weight="normal" fill="#222" text-anchor="end" >0.8</text>
<line x1="118" y1="325" x2="118" y2="327" stroke="#555" stroke-width="0.8" />
<text x="118" y="331.8" font-size="6.3" font-weight="normal" fill="#222" text-anchor="middle" >0</text>
<line x1="140.1" y1="325" x2="140.1" y2="327" stroke="#555" stroke-width="0.8" />
<text x="140.1" y="331.8" font-size="6.3" font-weight="normal" fill="#222" text-anchor="middle" >5</text>
<line x1="162.2" y1="325" x2="162.2" y2="327" stroke="#555" stroke-width="0.8" />
<text x="162.2" y="331.8" font-size="6.3" font-weight="normal" fill="#222" text-anchor="middle" >10</text>
<line x1="184.3" y1="325" x2="184.3" y2="327" stroke="#555" stroke-width="0.8" />
<text x="184.3" y="331.8" font-size="6.3" font-weight="normal" fill="#222" text-anchor="middle" >15</text>
<line x1="206.4" y1="325" x2="206.4" y2="327" stroke="#555" stroke-width="0.8" />
<text x="206.4" y="331.8" font-size="6.3" font-weight="normal" fill="#222" text-anchor="middle" >20</text>
<line x1="118" y1="323.87" x2="208.61" y2="247.9" stroke="#f0a070" stroke-width="0.9" />
<circle cx="118" cy="324.3" r="1.9" fill="#f28c3c"/>
<circle cx="123.53" cy="319.48" r="1.9" fill="#f28c3c"/>
<circle cx="129.05" cy="314.65" r="1.9" fill="#f28c3c"/>
<circle cx="140.1" cy="305" r="1.9" fill="#f28c3c"/>
<circle cx="162.2" cy="286.67" r="1.9" fill="#f28c3c"/>
<circle cx="206.4" cy="250" r="1.9" fill="#f28c3c"/>
<text x="0" y="0" font-size="8.1" font-weight="bold" fill="#111" transform="translate(130.2,304.2) rotate(-37.5)">y=0.0384x+0.0045</text>
<text x="164.2" y="339.6" font-size="7.1" font-weight="bold" fill="#111" text-anchor="middle" >Concentration of TA (ppm)</text>
<text x="0" y="0" font-size="8.2" font-weight="bold" fill="#111" text-anchor="middle" transform="translate(103.7,286.9) rotate(-90)">Absorption intensity of TA</text>
<defs><clipPath id="ce"><rect x="263.4" y="201.6" width="185.1" height="156.5"/></clipPath>
<linearGradient id="garr" x1="0" y1="1" x2="0" y2="0"><stop offset="0" stop-color="#b89ee6"/><stop offset="0.1" stop-color="#7ea6da"/><stop offset="0.22" stop-color="#7bbad0"/><stop offset="0.36" stop-color="#a6dcc6"/><stop offset="0.5" stop-color="#e6e4b0"/><stop offset="0.58" stop-color="#fbd68e"/><stop offset="0.74" stop-color="#f3a59a"/><stop offset="1" stop-color="#d9587a"/></linearGradient></defs>
<g clip-path="url(#ce)">
<path d="M263.1,333.69 C263.33,332.8 264.03,330.15 264.49,328.39 C264.95,326.62 265.45,324.49 265.88,323.09 C266.3,321.69 266.65,320.69 267.04,320 C267.42,319.31 267.77,319.02 268.2,318.97 C268.62,318.92 269.04,319.12 269.58,319.71 C270.13,320.29 270.82,321.35 271.44,322.5 C272.06,323.65 272.67,325.09 273.29,326.62 C273.91,328.16 274.45,329.9 275.14,331.71 C275.84,333.52 276.69,335.95 277.46,337.48 C278.23,339 279,340 279.78,340.84 C280.55,341.68 281.28,342.16 282.09,342.52 C282.9,342.88 283.71,343.08 284.64,343 C285.57,342.92 286.45,342.5 287.65,342.04 C288.85,341.59 290.35,340.66 291.82,340.26 C293.29,339.85 295.37,339.73 296.45,339.62 C297.53,339.5 297.53,339.53 298.3,339.57 C299.08,339.61 299.85,339.63 301.08,339.84 C302.32,340.04 304.17,340.41 305.71,340.81 C307.26,341.2 308.8,341.72 310.35,342.22 C311.89,342.72 313.43,343.28 314.98,343.81 C316.52,344.34 318.07,344.93 319.61,345.4 C321.15,345.87 322.7,346.3 324.24,346.63 C325.79,346.97 327.33,347.22 328.87,347.43 C330.42,347.63 331.73,347.76 333.51,347.87 C335.28,347.98 337.37,348.04 339.53,348.09 C341.69,348.15 343.77,348.18 346.48,348.21 C349.18,348.24 350.34,348.25 355.74,348.27 C361.14,348.29 371.18,348.31 378.9,348.33 C386.62,348.34 390.48,348.35 402.06,348.36 C413.64,348.36 440.66,348.38 448.38,348.38" stroke="#7a68c0" stroke-width="0.9" fill="none" />
<path d="M263.1,324.86 C263.33,323.44 264.03,319.21 264.49,316.38 C264.95,313.55 265.45,310.14 265.88,307.9 C266.3,305.67 266.65,304.06 267.04,302.96 C267.42,301.86 267.77,301.39 268.2,301.31 C268.62,301.23 269.04,301.55 269.58,302.49 C270.13,303.43 270.82,305.12 271.44,306.96 C272.06,308.81 272.67,311.12 273.29,313.55 C273.91,315.99 274.45,318.72 275.14,321.59 C275.84,324.46 276.69,328.35 277.46,330.77 C278.23,333.19 279,334.79 279.78,336.13 C280.55,337.47 281.28,338.23 282.09,338.81 C282.9,339.38 283.71,339.72 284.64,339.57 C285.57,339.42 286.45,338.71 287.65,337.92 C288.85,337.14 290.35,335.56 291.82,334.86 C293.29,334.17 295.37,333.95 296.45,333.76 C297.53,333.56 297.53,333.62 298.3,333.69 C299.08,333.75 299.85,333.78 301.08,334.13 C302.32,334.47 304.17,335.08 305.71,335.75 C307.26,336.41 308.8,337.27 310.35,338.1 C311.89,338.93 313.43,339.87 314.98,340.75 C316.52,341.63 318.07,342.61 319.61,343.4 C321.15,344.18 322.7,344.89 324.24,345.46 C325.79,346.02 327.33,346.44 328.87,346.78 C330.42,347.12 331.73,347.33 333.51,347.52 C335.28,347.7 337.37,347.79 339.53,347.88 C341.69,347.98 343.77,348.03 346.48,348.08 C349.18,348.13 350.34,348.14 355.74,348.18 C361.14,348.21 371.18,348.26 378.9,348.28 C386.62,348.31 390.48,348.31 402.06,348.33 C413.64,348.34 440.66,348.36 448.38,348.37" stroke="#cc9ee8" stroke-width="0.9" fill="none" />
<path d="M263.1,317.5 C263.33,315.64 264.03,310.08 264.49,306.37 C264.95,302.67 265.45,298.19 265.88,295.25 C266.3,292.31 266.65,290.2 267.04,288.76 C267.42,287.32 267.77,286.7 268.2,286.6 C268.62,286.49 269.04,286.91 269.58,288.14 C270.13,289.38 270.82,291.59 271.44,294.01 C272.06,296.43 272.67,299.48 273.29,302.67 C273.91,305.85 274.45,309.37 275.14,313.11 C275.84,316.86 276.69,321.95 277.46,325.12 C278.23,328.29 279,330.37 279.78,332.13 C280.55,333.88 281.28,334.88 282.09,335.63 C282.9,336.38 283.71,336.87 284.64,336.63 C285.57,336.38 286.45,335.33 287.65,334.16 C288.85,332.98 290.35,330.61 291.82,329.56 C293.29,328.52 295.37,328.2 296.45,327.9 C297.53,327.61 297.53,327.71 298.3,327.8 C299.08,327.88 299.85,327.94 301.08,328.42 C302.32,328.9 304.17,329.76 305.71,330.68 C307.26,331.61 308.8,332.81 310.35,333.98 C311.89,335.15 313.43,336.45 314.98,337.69 C316.52,338.92 318.07,340.3 319.61,341.4 C321.15,342.49 322.7,343.49 324.24,344.28 C325.79,345.07 327.33,345.65 328.87,346.13 C330.42,346.61 331.73,346.91 333.51,347.16 C335.28,347.42 337.37,347.55 339.53,347.68 C341.69,347.81 343.77,347.88 346.48,347.95 C349.18,348.02 350.34,348.04 355.74,348.09 C361.14,348.14 371.18,348.2 378.9,348.24 C386.62,348.27 390.48,348.28 402.06,348.3 C413.64,348.32 440.66,348.35 448.38,348.36" stroke="#5a96d6" stroke-width="0.9" fill="none" />
<path d="M263.1,311.61 C263.33,309.41 264.03,302.78 264.49,298.37 C264.95,293.95 265.45,288.62 265.88,285.13 C266.3,281.63 266.65,279.12 267.04,277.4 C267.42,275.68 267.77,274.95 268.2,274.82 C268.62,274.7 269.04,275.19 269.58,276.66 C270.13,278.14 270.82,280.77 271.44,283.65 C272.06,286.54 272.67,290.23 273.29,293.95 C273.91,297.68 274.45,301.66 275.14,306.02 C275.84,310.39 276.69,316.42 277.46,320.15 C278.23,323.88 279,326.33 279.78,328.39 C280.55,330.45 281.28,331.62 282.09,332.51 C282.9,333.39 283.71,334.04 284.64,333.69 C285.57,333.33 286.45,331.96 287.65,330.39 C288.85,328.82 290.35,325.66 291.82,324.27 C293.29,322.88 295.37,322.44 296.45,322.05 C297.53,321.65 297.53,321.8 298.3,321.91 C299.08,322.02 299.85,322.09 301.08,322.71 C302.32,323.33 304.17,324.43 305.71,325.62 C307.26,326.81 308.8,328.36 310.35,329.86 C311.89,331.36 313.43,333.04 314.98,334.63 C316.52,336.22 318.07,337.98 319.61,339.39 C321.15,340.81 322.7,342.09 324.24,343.1 C325.79,344.12 327.33,344.87 328.87,345.49 C330.42,346.1 331.73,346.48 333.51,346.81 C335.28,347.14 337.37,347.31 339.53,347.47 C341.69,347.64 343.77,347.73 346.48,347.82 C349.18,347.91 350.34,347.94 355.74,348 C361.14,348.06 371.18,348.14 378.9,348.19 C386.62,348.23 390.48,348.24 402.06,348.27 C413.64,348.29 440.66,348.33 448.38,348.35" stroke="#78c4c8" stroke-width="0.9" fill="none" />
<path d="M263.1,305.73 C263.33,303.17 264.03,295.48 264.49,290.36 C264.95,285.24 265.45,279.06 265.88,275 C266.3,270.95 266.65,268.03 267.04,266.04 C267.42,264.05 267.77,263.2 268.2,263.05 C268.62,262.91 269.04,263.48 269.58,265.19 C270.13,266.89 270.82,269.95 271.44,273.29 C272.06,276.64 272.67,280.93 273.29,285.24 C273.91,289.56 274.45,294.14 275.14,299.19 C275.84,304.24 276.69,311.23 277.46,315.55 C278.23,319.87 279,322.71 279.78,325.1 C280.55,327.48 281.28,328.85 282.09,329.87 C282.9,330.89 283.71,331.67 284.64,331.23 C285.57,330.8 286.45,329.15 287.65,327.25 C288.85,325.35 290.35,321.53 291.82,319.85 C293.29,318.17 295.37,317.64 296.45,317.16 C297.53,316.69 297.53,316.88 298.3,317.01 C299.08,317.14 299.85,317.22 301.08,317.95 C302.32,318.68 304.17,319.99 305.71,321.4 C307.26,322.82 308.8,324.65 310.35,326.43 C311.89,328.2 313.43,330.19 314.98,332.08 C316.52,333.96 318.07,336.05 319.61,337.73 C321.15,339.4 322.7,340.92 324.24,342.12 C325.79,343.32 327.33,344.21 328.87,344.95 C330.42,345.68 331.73,346.12 333.51,346.52 C335.28,346.91 337.37,347.1 339.53,347.3 C341.69,347.5 343.77,347.6 346.48,347.71 C349.18,347.81 350.34,347.86 355.74,347.93 C361.14,348 371.18,348.1 378.9,348.15 C386.62,348.2 390.48,348.21 402.06,348.24 C413.64,348.27 440.66,348.32 448.38,348.34" stroke="#9ed8bc" stroke-width="0.9" fill="none" />
<path d="M263.1,300.82 C263.33,297.97 264.03,289.4 264.49,283.69 C264.95,277.98 265.45,271.08 265.88,266.56 C266.3,262.05 266.65,258.79 267.04,256.57 C267.42,254.35 267.77,253.4 268.2,253.24 C268.62,253.08 269.04,253.72 269.58,255.62 C270.13,257.53 270.82,260.93 271.44,264.66 C272.06,268.39 272.67,273.17 273.29,277.98 C273.91,282.8 274.45,287.9 275.14,293.54 C275.84,299.17 276.69,306.97 277.46,311.78 C278.23,316.6 279,319.77 279.78,322.43 C280.55,325.09 281.28,326.61 282.09,327.75 C282.9,328.89 283.71,329.77 284.64,329.27 C285.57,328.77 286.45,326.9 287.65,324.74 C288.85,322.58 290.35,318.23 291.82,316.32 C293.29,314.41 295.37,313.8 296.45,313.26 C297.53,312.72 297.53,312.94 298.3,313.08 C299.08,313.23 299.85,313.32 301.08,314.14 C302.32,314.97 304.17,316.44 305.71,318.03 C307.26,319.62 308.8,321.68 310.35,323.68 C311.89,325.68 313.43,327.92 314.98,330.04 C316.52,332.15 318.07,334.51 319.61,336.39 C321.15,338.28 322.7,339.98 324.24,341.34 C325.79,342.69 327.33,343.69 328.87,344.52 C330.42,345.34 331.73,345.84 333.51,346.28 C335.28,346.72 337.37,346.94 339.53,347.16 C341.69,347.39 343.77,347.51 346.48,347.62 C349.18,347.74 350.34,347.79 355.74,347.87 C361.14,347.95 371.18,348.06 378.9,348.12 C386.62,348.18 390.48,348.19 402.06,348.22 C413.64,348.26 440.66,348.31 448.38,348.33" stroke="#cfe6a8" stroke-width="0.9" fill="none" />
<path d="M263.1,296.9 C263.33,293.81 264.03,284.54 264.49,278.36 C264.95,272.18 265.45,264.71 265.88,259.82 C266.3,254.92 266.65,251.4 267.04,249 C267.42,246.6 267.77,245.57 268.2,245.39 C268.62,245.22 269.04,245.91 269.58,247.97 C270.13,250.03 270.82,253.72 271.44,257.76 C272.06,261.79 272.67,267 273.29,272.18 C273.91,277.35 274.45,282.76 275.14,288.81 C275.84,294.86 276.69,303.28 277.46,308.47 C278.23,313.66 279,317.07 279.78,319.94 C280.55,322.8 281.28,324.44 282.09,325.67 C282.9,326.9 283.71,327.84 284.64,327.31 C285.57,326.78 286.45,324.79 287.65,322.5 C288.85,320.21 290.35,315.6 291.82,313.57 C293.29,311.55 295.37,310.9 296.45,310.33 C297.53,309.76 297.53,309.98 298.3,310.14 C299.08,310.3 299.85,310.4 301.08,311.29 C302.32,312.18 304.17,313.78 305.71,315.5 C307.26,317.22 308.8,319.45 310.35,321.62 C311.89,323.79 313.43,326.21 314.98,328.51 C316.52,330.8 318.07,333.35 319.61,335.39 C321.15,337.43 322.7,339.28 324.24,340.75 C325.79,342.21 327.33,343.3 328.87,344.19 C330.42,345.08 331.73,345.63 333.51,346.1 C335.28,346.58 337.37,346.82 339.53,347.06 C341.69,347.3 343.77,347.43 346.48,347.56 C349.18,347.69 350.34,347.74 355.74,347.83 C361.14,347.92 371.18,348.03 378.9,348.09 C386.62,348.16 390.48,348.17 402.06,348.21 C413.64,348.25 440.66,348.3 448.38,348.32" stroke="#fbe0a0" stroke-width="0.9" fill="none" />
<path d="M263.1,294.44 C263.33,291.21 264.03,281.5 264.49,275.02 C264.95,268.55 265.45,260.72 265.88,255.6 C266.3,250.47 266.65,246.78 267.04,244.27 C267.42,241.75 267.77,240.67 268.2,240.49 C268.62,240.31 269.04,241.03 269.58,243.19 C270.13,245.35 270.82,249.21 271.44,253.44 C272.06,257.67 272.67,263.17 273.29,268.55 C273.91,273.93 274.45,279.45 275.14,285.72 C275.84,292 276.69,300.8 277.46,306.21 C278.23,311.61 279,315.17 279.78,318.16 C280.55,321.14 281.28,322.85 282.09,324.13 C282.9,325.41 283.71,326.42 284.64,325.84 C285.57,325.25 286.45,323.1 287.65,320.62 C288.85,318.13 290.35,313.13 291.82,310.93 C293.29,308.72 295.37,308.03 296.45,307.4 C297.53,306.78 297.53,307.03 298.3,307.2 C299.08,307.37 299.85,307.47 301.08,308.43 C302.32,309.4 304.17,311.11 305.71,312.97 C307.26,314.82 308.8,317.22 310.35,319.56 C311.89,321.89 313.43,324.5 314.98,326.97 C316.52,329.45 318.07,332.19 319.61,334.39 C321.15,336.59 322.7,338.58 324.24,340.16 C325.79,341.74 327.33,342.91 328.87,343.87 C330.42,344.83 331.73,345.41 333.51,345.93 C335.28,346.44 337.37,346.7 339.53,346.96 C341.69,347.22 343.77,347.36 346.48,347.49 C349.18,347.63 350.34,347.69 355.74,347.78 C361.14,347.88 371.18,348 378.9,348.07 C386.62,348.14 390.48,348.15 402.06,348.19 C413.64,348.24 440.66,348.3 448.38,348.32" stroke="#f9c394" stroke-width="0.9" fill="none" />
<path d="M263.1,291.99 C263.33,288.61 264.03,278.45 264.49,271.69 C264.95,264.92 265.45,256.74 265.88,251.38 C266.3,246.02 266.65,242.17 267.04,239.53 C267.42,236.9 267.77,235.77 268.2,235.58 C268.62,235.4 269.04,236.15 269.58,238.41 C270.13,240.66 270.82,244.7 271.44,249.12 C272.06,253.54 272.67,259.33 273.29,264.92 C273.91,270.5 274.45,276.13 275.14,282.64 C275.84,289.14 276.69,298.32 277.46,303.95 C278.23,309.57 279,313.27 279.78,316.38 C280.55,319.48 281.28,321.26 282.09,322.59 C282.9,323.92 283.71,324.96 284.64,324.37 C285.57,323.77 286.45,321.56 287.65,319.01 C288.85,316.46 290.35,311.32 291.82,309.06 C293.29,306.8 295.37,306.09 296.45,305.45 C297.53,304.81 297.53,305.06 298.3,305.24 C299.08,305.42 299.85,305.52 301.08,306.53 C302.32,307.54 304.17,309.34 305.71,311.28 C307.26,313.22 308.8,315.74 310.35,318.19 C311.89,320.63 313.43,323.36 314.98,325.95 C316.52,328.54 318.07,331.42 319.61,333.72 C321.15,336.03 322.7,338.11 324.24,339.77 C325.79,341.42 327.33,342.64 328.87,343.65 C330.42,344.66 331.73,345.27 333.51,345.81 C335.28,346.35 337.37,346.62 339.53,346.89 C341.69,347.16 343.77,347.31 346.48,347.45 C349.18,347.59 350.34,347.65 355.74,347.75 C361.14,347.85 371.18,347.98 378.9,348.05 C386.62,348.13 390.48,348.14 402.06,348.18 C413.64,348.23 440.66,348.29 448.38,348.31" stroke="#f08a76" stroke-width="0.9" fill="none" />
<path d="M263.1,290.52 C263.33,287.05 264.03,276.63 264.49,269.68 C264.95,262.74 265.45,254.35 265.88,248.85 C266.3,243.35 266.65,239.39 267.04,236.69 C267.42,233.99 267.77,232.83 268.2,232.64 C268.62,232.45 269.04,233.22 269.58,235.54 C270.13,237.85 270.82,242 271.44,246.53 C272.06,251.07 272.67,257.04 273.29,262.74 C273.91,268.44 274.45,274.11 275.14,280.74 C275.84,287.36 276.69,296.77 277.46,302.51 C278.23,308.26 279,312.04 279.78,315.22 C280.55,318.39 281.28,320.21 282.09,321.57 C282.9,322.93 283.71,324 284.64,323.38 C285.57,322.77 286.45,320.51 287.65,317.89 C288.85,315.27 290.35,310.01 291.82,307.69 C293.29,305.37 295.37,304.64 296.45,303.99 C297.53,303.33 297.53,303.58 298.3,303.76 C299.08,303.95 299.85,304.06 301.08,305.1 C302.32,306.15 304.17,308 305.71,310.01 C307.26,312.02 308.8,314.63 310.35,317.16 C311.89,319.68 313.43,322.51 314.98,325.19 C316.52,327.87 318.07,330.84 319.61,333.22 C321.15,335.6 322.7,337.76 324.24,339.47 C325.79,341.18 327.33,342.45 328.87,343.49 C330.42,344.53 331.73,345.16 333.51,345.72 C335.28,346.28 337.37,346.56 339.53,346.84 C341.69,347.12 343.77,347.27 346.48,347.42 C349.18,347.57 350.34,347.63 355.74,347.73 C361.14,347.83 371.18,347.97 378.9,348.04 C386.62,348.12 390.48,348.13 402.06,348.18 C413.64,348.22 440.66,348.29 448.38,348.31" stroke="#e2607e" stroke-width="0.9" fill="none" />
<path d="M263.1,289.05 C263.33,285.49 264.03,274.81 264.49,267.68 C264.95,260.56 265.45,251.96 265.88,246.32 C266.3,240.68 266.65,236.62 267.04,233.85 C267.42,231.08 267.77,229.9 268.2,229.7 C268.62,229.5 269.04,230.29 269.58,232.67 C270.13,235.04 270.82,239.29 271.44,243.94 C272.06,248.59 272.67,254.75 273.29,260.56 C273.91,266.38 274.45,272.08 275.14,278.83 C275.84,285.59 276.69,295.21 277.46,301.08 C278.23,306.95 279,310.82 279.78,314.06 C280.55,317.3 281.28,319.16 282.09,320.55 C282.9,321.94 283.71,323.01 284.64,322.4 C285.57,321.8 286.45,319.53 287.65,316.91 C288.85,314.29 290.35,309.02 291.82,306.71 C293.29,304.39 295.37,303.67 296.45,303.01 C297.53,302.36 297.53,302.59 298.3,302.78 C299.08,302.97 299.85,303.09 301.08,304.15 C302.32,305.22 304.17,307.12 305.71,309.17 C307.26,311.22 308.8,313.88 310.35,316.47 C311.89,319.05 313.43,321.94 314.98,324.68 C316.52,327.42 318.07,330.46 319.61,332.89 C321.15,335.32 322.7,337.53 324.24,339.28 C325.79,341.03 327.33,342.32 328.87,343.38 C330.42,344.45 331.73,345.09 333.51,345.66 C335.28,346.23 337.37,346.51 339.53,346.8 C341.69,347.09 343.77,347.24 346.48,347.4 C349.18,347.55 350.34,347.61 355.74,347.72 C361.14,347.82 371.18,347.96 378.9,348.04 C386.62,348.11 390.48,348.13 402.06,348.17 C413.64,348.22 440.66,348.29 448.38,348.31" stroke="#ea8ca4" stroke-width="0.9" fill="none" />
<path d="M263.1,287.82 C263.33,284.19 264.03,273.28 264.49,266.02 C264.95,258.75 265.45,249.96 265.88,244.21 C266.3,238.45 266.65,234.31 267.04,231.49 C267.42,228.66 267.77,227.45 268.2,227.25 C268.62,227.04 269.04,227.85 269.58,230.28 C270.13,232.7 270.82,237.04 271.44,241.78 C272.06,246.53 272.67,252.82 273.29,258.75 C273.91,264.67 274.45,270.44 275.14,277.32 C275.84,284.19 276.69,294.01 277.46,299.99 C278.23,305.97 279,309.91 279.78,313.21 C280.55,316.52 281.28,318.41 282.09,319.83 C282.9,321.24 283.71,322.35 284.64,321.72 C285.57,321.08 286.45,318.72 287.65,316 C288.85,313.28 290.35,307.8 291.82,305.39 C293.29,302.98 295.37,302.23 296.45,301.55 C297.53,300.87 297.53,301.12 298.3,301.31 C299.08,301.51 299.85,301.63 301.08,302.72 C302.32,303.82 304.17,305.79 305.71,307.9 C307.26,310.02 308.8,312.77 310.35,315.44 C311.89,318.11 313.43,321.09 314.98,323.91 C316.52,326.74 318.07,329.88 319.61,332.39 C321.15,334.9 322.7,337.18 324.24,338.98 C325.79,340.79 327.33,342.12 328.87,343.22 C330.42,344.32 331.73,344.99 333.51,345.57 C335.28,346.16 337.37,346.45 339.53,346.75 C341.69,347.05 343.77,347.21 346.48,347.36 C349.18,347.52 350.34,347.58 355.74,347.69 C361.14,347.8 371.18,347.94 378.9,348.02 C386.62,348.1 390.48,348.12 402.06,348.16 C413.64,348.21 440.66,348.28 448.38,348.31" stroke="#d64f7a" stroke-width="1.3" fill="none" />
</g>
<line x1="298.5" y1="247" x2="298.5" y2="358.1" stroke="#e04f86" stroke-width="0.95" stroke-dasharray="3.2,3"/>
<text x="286.5" y="244.2" font-size="8.4" font-weight="bold" fill="#111" text-anchor="start" >274 nm</text>
<polygon points="350.4,333.6 355.8,333.6 355.8,239.7 358.5,239.7 353.1,224.9 347.7,239.7 350.4,239.7" fill="url(#garr)"/>
<line x1="385.3" y1="216.2" x2="404.2" y2="216.2" stroke="#d64f7a" stroke-width="1.2" />
<text x="436.2" y="219.2" font-size="8.4" font-weight="bold" fill="#111" text-anchor="end" >600min</text>
<line x1="385.3" y1="226.86" x2="404.2" y2="226.86" stroke="#ea8ca4" stroke-width="1.2" />
<text x="436.2" y="229.86" font-size="8.4" font-weight="bold" fill="#111" text-anchor="end" >540min</text>
<line x1="385.3" y1="237.52" x2="404.2" y2="237.52" stroke="#e2607e" stroke-width="1.2" />
<text x="436.2" y="240.52" font-size="8.4" font-weight="bold" fill="#111" text-anchor="end" >480min</text>
<line x1="385.3" y1="248.18" x2="404.2" y2="248.18" stroke="#f08a76" stroke-width="1.2" />
<text x="436.2" y="251.18" font-size="8.4" font-weight="bold" fill="#111" text-anchor="end" >420min</text>
<line x1="385.3" y1="258.84" x2="404.2" y2="258.84" stroke="#f9c394" stroke-width="1.2" />
<text x="436.2" y="261.84" font-size="8.4" font-weight="bold" fill="#111" text-anchor="end" >360min</text>
<line x1="385.3" y1="269.5" x2="404.2" y2="269.5" stroke="#fbe0a0" stroke-width="1.2" />
<text x="436.2" y="272.5" font-size="8.4" font-weight="bold" fill="#111" text-anchor="end" >300min</text>
<line x1="385.3" y1="280.16" x2="404.2" y2="280.16" stroke="#cfe6a8" stroke-width="1.2" />
<text x="436.2" y="283.16" font-size="8.4" font-weight="bold" fill="#111" text-anchor="end" >240min</text>
<line x1="385.3" y1="290.82" x2="404.2" y2="290.82" stroke="#9ed8bc" stroke-width="1.2" />
<text x="436.2" y="293.82" font-size="8.4" font-weight="bold" fill="#111" text-anchor="end" >180min</text>
<line x1="385.3" y1="301.48" x2="404.2" y2="301.48" stroke="#78c4c8" stroke-width="1.2" />
<text x="436.2" y="304.48" font-size="8.4" font-weight="bold" fill="#111" text-anchor="end" >120min</text>
<line x1="385.3" y1="312.14" x2="404.2" y2="312.14" stroke="#5a96d6" stroke-width="1.2" />
<text x="436.2" y="315.14" font-size="8.4" font-weight="bold" fill="#111" text-anchor="end" >90 min</text>
<line x1="385.3" y1="322.8" x2="404.2" y2="322.8" stroke="#cc9ee8" stroke-width="1.2" />
<text x="436.2" y="325.8" font-size="8.4" font-weight="bold" fill="#111" text-anchor="end" >60 min</text>
<line x1="385.3" y1="333.46" x2="404.2" y2="333.46" stroke="#7a68c0" stroke-width="1.2" />
<text x="436.2" y="336.46" font-size="8.4" font-weight="bold" fill="#111" text-anchor="end" >30 min</text>
<rect x="263.4" y="201.6" width="185.1" height="156.5" fill="none" stroke="#3c3c3c" stroke-width="1.2"/>
<line x1="263.1" y1="358.1" x2="263.1" y2="361.1" stroke="#3c3c3c" stroke-width="1" />
<text x="0" y="0" transform="translate(263.1,370.4) scale(1,1.06)" font-size="9.2" font-weight="normal" fill="#222" text-anchor="middle" >200</text>
<line x1="309.42" y1="358.1" x2="309.42" y2="361.1" stroke="#3c3c3c" stroke-width="1" />
<text x="0" y="0" transform="translate(309.42,370.4) scale(1,1.06)" font-size="9.2" font-weight="normal" fill="#222" text-anchor="middle" >300</text>
<line x1="355.74" y1="358.1" x2="355.74" y2="361.1" stroke="#3c3c3c" stroke-width="1" />
<text x="0" y="0" transform="translate(355.74,370.4) scale(1,1.06)" font-size="9.2" font-weight="normal" fill="#222" text-anchor="middle" >400</text>
<line x1="402.06" y1="358.1" x2="402.06" y2="361.1" stroke="#3c3c3c" stroke-width="1" />
<text x="0" y="0" transform="translate(402.06,370.4) scale(1,1.06)" font-size="9.2" font-weight="normal" fill="#222" text-anchor="middle" >500</text>
<line x1="448.38" y1="358.1" x2="448.38" y2="361.1" stroke="#3c3c3c" stroke-width="1" />
<text x="0" y="0" transform="translate(448.38,370.4) scale(1,1.06)" font-size="9.2" font-weight="normal" fill="#222" text-anchor="middle" >600</text>
<line x1="286.26" y1="358.1" x2="286.26" y2="360.1" stroke="#3c3c3c" stroke-width="1" />
<line x1="332.58" y1="358.1" x2="332.58" y2="360.1" stroke="#3c3c3c" stroke-width="1" />
<line x1="378.9" y1="358.1" x2="378.9" y2="360.1" stroke="#3c3c3c" stroke-width="1" />
<line x1="425.22" y1="358.1" x2="425.22" y2="360.1" stroke="#3c3c3c" stroke-width="1" />
<line x1="260.4" y1="348.4" x2="263.4" y2="348.4" stroke="#3c3c3c" stroke-width="1" />
<text x="0" y="0" transform="translate(258,351.4) scale(1,1.06)" font-size="9.2" font-weight="normal" fill="#222" text-anchor="end" >0.0</text>
<line x1="260.4" y1="299.35" x2="263.4" y2="299.35" stroke="#3c3c3c" stroke-width="1" />
<text x="0" y="0" transform="translate(258,302.35) scale(1,1.06)" font-size="9.2" font-weight="normal" fill="#222" text-anchor="end" >0.5</text>
<line x1="260.4" y1="250.3" x2="263.4" y2="250.3" stroke="#3c3c3c" stroke-width="1" />
<text x="0" y="0" transform="translate(258,253.3) scale(1,1.06)" font-size="9.2" font-weight="normal" fill="#222" text-anchor="end" >1.0</text>
<line x1="260.4" y1="201.25" x2="263.4" y2="201.25" stroke="#3c3c3c" stroke-width="1" />
<text x="0" y="0" transform="translate(258,204.25) scale(1,1.06)" font-size="9.2" font-weight="normal" fill="#222" text-anchor="end" >1.5</text>
<line x1="261.4" y1="323.88" x2="263.4" y2="323.88" stroke="#3c3c3c" stroke-width="1" />
<line x1="261.4" y1="274.82" x2="263.4" y2="274.82" stroke="#3c3c3c" stroke-width="1" />
<line x1="261.4" y1="225.77" x2="263.4" y2="225.77" stroke="#3c3c3c" stroke-width="1" />
<text x="356" y="388.3" font-size="10.7" font-weight="bold" fill="#111" text-anchor="middle" >Wavelength (nm)</text>
<text x="0" y="0" font-size="10.7" font-weight="bold" fill="#111" text-anchor="middle" transform="translate(242.6,279.2) rotate(-90)">Absorption (a.u.)</text>
<text x="227.9" y="207.6" font-size="15" font-weight="bold" fill="#000" text-anchor="start" >e</text>
<defs><linearGradient id="gbar" x1="0" y1="0" x2="0" y2="1"><stop offset="0" stop-color="#f7a473"/><stop offset="0.5" stop-color="#f8b68e"/><stop offset="1" stop-color="#fcd3b8"/></linearGradient><linearGradient id="gbarh" x1="0" y1="0" x2="1" y2="0"><stop offset="0" stop-color="#fff" stop-opacity="0.3"/><stop offset="0.45" stop-color="#fff" stop-opacity="0"/><stop offset="1" stop-color="#fff" stop-opacity="0.08"/></linearGradient><filter id="tex1" x="0" y="0" width="100%" height="100%"><feTurbulence type="fractalNoise" baseFrequency="0.75" numOctaves="2" seed="3" result="n"/><feColorMatrix in="n" type="matrix" values="0 0 0 0 0  0 0 0 0 0  0 0 0 0 0  0 0 0 -2.2 1.4" result="a"/><feComposite in="a" in2="SourceGraphic" operator="in"/></filter><filter id="tex2" x="0" y="0" width="100%" height="100%"><feTurbulence type="fractalNoise" baseFrequency="0.85" numOctaves="2" seed="9" result="n"/><feColorMatrix in="n" type="matrix" values="0 0 0 0 0  0 0 0 0 0  0 0 0 0 0  0 0 0 -2.2 1.4" result="a"/><feComposite in="a" in2="SourceGraphic" operator="in"/></filter></defs>
<rect x="498.68" y="343.52" width="8.2" height="16.98" fill="url(#gbar)" />
<rect x="498.68" y="343.52" width="8.2" height="16.98" fill="url(#gbarh)" />
<rect x="507.65" y="329.53" width="8.2" height="30.97" fill="url(#gbar)" />
<rect x="507.65" y="329.53" width="8.2" height="30.97" fill="url(#gbarh)" />
<rect x="516.63" y="317.3" width="8.2" height="43.2" fill="url(#gbar)" />
<rect x="516.63" y="317.3" width="8.2" height="43.2" fill="url(#gbarh)" />
<rect x="525.6" y="307.29" width="8.2" height="53.21" fill="url(#gbar)" />
<rect x="525.6" y="307.29" width="8.2" height="53.21" fill="url(#gbarh)" />
<rect x="543.55" y="296.16" width="8.2" height="64.34" fill="url(#gbar)" />
<rect x="543.55" y="296.16" width="8.2" height="64.34" fill="url(#gbarh)" />
<rect x="561.5" y="285.83" width="8.2" height="74.67" fill="url(#gbar)" />
<rect x="561.5" y="285.83" width="8.2" height="74.67" fill="url(#gbarh)" />
<rect x="579.45" y="278.53" width="8.2" height="81.97" fill="url(#gbar)" />
<rect x="579.45" y="278.53" width="8.2" height="81.97" fill="url(#gbarh)" />
<rect x="597.4" y="273.12" width="8.2" height="87.38" fill="url(#gbar)" />
<rect x="597.4" y="273.12" width="8.2" height="87.38" fill="url(#gbarh)" />
<rect x="615.35" y="267.88" width="8.2" height="92.62" fill="url(#gbar)" />
<rect x="615.35" y="267.88" width="8.2" height="92.62" fill="url(#gbarh)" />
<rect x="633.3" y="263.43" width="8.2" height="97.07" fill="url(#gbar)" />
<rect x="633.3" y="263.43" width="8.2" height="97.07" fill="url(#gbarh)" />
<rect x="651.25" y="260.57" width="8.2" height="99.93" fill="url(#gbar)" />
<rect x="651.25" y="260.57" width="8.2" height="99.93" fill="url(#gbarh)" />
<rect x="669.2" y="256.28" width="8.2" height="104.22" fill="url(#gbar)" />
<rect x="669.2" y="256.28" width="8.2" height="104.22" fill="url(#gbarh)" />
<path d="M493.8,360.2 C495.3,357.42 499.78,348.63 502.78,343.52 C505.77,338.4 508.76,333.9 511.75,329.53 C514.74,325.16 517.73,321 520.73,317.3 C523.72,313.59 525.21,310.81 529.7,307.29 C534.19,303.76 541.67,299.74 547.65,296.16 C553.63,292.59 559.62,288.77 565.6,285.83 C571.58,282.9 577.57,280.64 583.55,278.53 C589.53,276.41 595.52,274.9 601.5,273.12 C607.48,271.35 613.47,269.49 619.45,267.88 C625.43,266.26 631.42,264.65 637.4,263.43 C643.38,262.21 649.37,261.76 655.35,260.57 C661.34,259.38 670.31,256.99 673.3,256.28" stroke="#e8742e" stroke-width="1.0" fill="none" />
<circle cx="502.78" cy="343.52" r="2.3" fill="#f39a5a" stroke="#ec7f3a" stroke-width="0.6"/>
<circle cx="502.48" cy="343.12" r="0.9" fill="#fde3cf"/>
<circle cx="511.75" cy="329.53" r="2.3" fill="#f39a5a" stroke="#ec7f3a" stroke-width="0.6"/>
<circle cx="511.45" cy="329.13" r="0.9" fill="#fde3cf"/>
<circle cx="520.73" cy="317.3" r="2.3" fill="#f39a5a" stroke="#ec7f3a" stroke-width="0.6"/>
<circle cx="520.43" cy="316.9" r="0.9" fill="#fde3cf"/>
<circle cx="529.7" cy="307.29" r="2.3" fill="#f39a5a" stroke="#ec7f3a" stroke-width="0.6"/>
<circle cx="529.4" cy="306.89" r="0.9" fill="#fde3cf"/>
<circle cx="547.65" cy="296.16" r="2.3" fill="#f39a5a" stroke="#ec7f3a" stroke-width="0.6"/>
<circle cx="547.35" cy="295.76" r="0.9" fill="#fde3cf"/>
<circle cx="565.6" cy="285.83" r="2.3" fill="#f39a5a" stroke="#ec7f3a" stroke-width="0.6"/>
<circle cx="565.3" cy="285.43" r="0.9" fill="#fde3cf"/>
<circle cx="583.55" cy="278.53" r="2.3" fill="#f39a5a" stroke="#ec7f3a" stroke-width="0.6"/>
<circle cx="583.25" cy="278.13" r="0.9" fill="#fde3cf"/>
<circle cx="601.5" cy="273.12" r="2.3" fill="#f39a5a" stroke="#ec7f3a" stroke-width="0.6"/>
<circle cx="601.2" cy="272.72" r="0.9" fill="#fde3cf"/>
<circle cx="619.45" cy="267.88" r="2.3" fill="#f39a5a" stroke="#ec7f3a" stroke-width="0.6"/>
<circle cx="619.15" cy="267.48" r="0.9" fill="#fde3cf"/>
<circle cx="637.4" cy="263.43" r="2.3" fill="#f39a5a" stroke="#ec7f3a" stroke-width="0.6"/>
<circle cx="637.1" cy="263.03" r="0.9" fill="#fde3cf"/>
<circle cx="655.35" cy="260.57" r="2.3" fill="#f39a5a" stroke="#ec7f3a" stroke-width="0.6"/>
<circle cx="655.05" cy="260.17" r="0.9" fill="#fde3cf"/>
<circle cx="673.3" cy="256.28" r="2.3" fill="#f39a5a" stroke="#ec7f3a" stroke-width="0.6"/>
<circle cx="673" cy="255.88" r="0.9" fill="#fde3cf"/>
<circle cx="493.8" cy="360.2" r="1.8" fill="#f39a5a"/>
<defs><filter id="tb1" x="-10%" y="-10%" width="120%" height="120%"><feGaussianBlur stdDeviation="0.55"/></filter><radialGradient id="tp1"><stop offset="0" stop-color="#6c6c6d"/><stop offset="0.72" stop-color="#6c6c6d"/><stop offset="1" stop-color="#8e8f90"/></radialGradient><radialGradient id="th1" cx="0.45" cy="0.52" r="0.6"><stop offset="0.5" stop-color="#b8babc"/><stop offset="1" stop-color="#a5a8aa"/></radialGradient><clipPath id="tc1"><rect x="494" y="239.9" width="54.2" height="51.3"/></clipPath></defs>
<g clip-path="url(#tc1)">
<rect x="494" y="239.9" width="54.2" height="51.3" fill="url(#th1)" />
<rect x="494" y="239.9" width="54.2" height="51.3" fill="#000" filter="url(#tex1)" opacity="0.06"/>
<path d="M536.05,266.5 C535.96,267 535.64,268.48 535.53,269.5 C535.43,270.53 535.78,271.73 535.42,272.66 C535.06,273.59 533.9,274.21 533.36,275.1 C532.81,275.98 532.73,277.16 532.13,277.97 C531.53,278.79 530.6,279.42 529.75,279.99 C528.89,280.56 527.86,280.83 526.98,281.37 C526.1,281.91 525.41,282.9 524.46,283.24 C523.51,283.57 522.34,283.22 521.31,283.38 C520.28,283.54 519.3,284.2 518.3,284.21 C517.3,284.21 516.27,283.68 515.28,283.43 C514.29,283.17 513.33,282.95 512.35,282.68 C511.36,282.41 510.34,282.19 509.35,281.82 C508.37,281.46 507.17,281.2 506.43,280.49 C505.69,279.79 505.49,278.48 504.93,277.6 C504.36,276.72 503.68,276.03 503.06,275.2 C502.44,274.38 501.73,273.57 501.21,272.65 C500.69,271.73 500.11,270.73 499.94,269.7 C499.77,268.68 500.06,267.54 500.19,266.5 C500.32,265.46 500.63,264.49 500.72,263.43 C500.81,262.38 500.31,261.1 500.74,260.18 C501.17,259.26 502.71,258.83 503.28,257.92 C503.84,257.01 503.51,255.54 504.12,254.73 C504.72,253.93 506.02,253.63 506.92,253.09 C507.83,252.56 508.65,251.99 509.56,251.52 C510.46,251.06 511.39,250.67 512.33,250.28 C513.28,249.9 514.23,249.58 515.22,249.24 C516.22,248.9 517.28,248.22 518.3,248.25 C519.32,248.28 520.31,249.18 521.35,249.42 C522.38,249.65 523.49,249.42 524.5,249.66 C525.51,249.91 526.52,250.36 527.4,250.91 C528.28,251.47 528.96,252.32 529.75,253 C530.54,253.69 531.54,254.2 532.14,255.01 C532.74,255.83 532.93,256.98 533.34,257.91 C533.76,258.85 534.24,259.7 534.62,260.63 C535,261.55 534.8,262.17 535.61,263.48 C536.42,264.79 539.43,268 539.5,268.5 C539.57,269 536.62,266.83 536.05,266.5Z" fill="url(#tp1)" filter="url(#tb1)"/>
<path d="M536.05,266.5 C535.96,267 535.64,268.48 535.53,269.5 C535.43,270.53 535.78,271.73 535.42,272.66 C535.06,273.59 533.9,274.21 533.36,275.1 C532.81,275.98 532.73,277.16 532.13,277.97 C531.53,278.79 530.6,279.42 529.75,279.99 C528.89,280.56 527.86,280.83 526.98,281.37 C526.1,281.91 525.41,282.9 524.46,283.24 C523.51,283.57 522.34,283.22 521.31,283.38 C520.28,283.54 519.3,284.2 518.3,284.21 C517.3,284.21 516.27,283.68 515.28,283.43 C514.29,283.17 513.33,282.95 512.35,282.68 C511.36,282.41 510.34,282.19 509.35,281.82 C508.37,281.46 507.17,281.2 506.43,280.49 C505.69,279.79 505.49,278.48 504.93,277.6 C504.36,276.72 503.68,276.03 503.06,275.2 C502.44,274.38 501.73,273.57 501.21,272.65 C500.69,271.73 500.11,270.73 499.94,269.7 C499.77,268.68 500.06,267.54 500.19,266.5 C500.32,265.46 500.63,264.49 500.72,263.43 C500.81,262.38 500.31,261.1 500.74,260.18 C501.17,259.26 502.71,258.83 503.28,257.92 C503.84,257.01 503.51,255.54 504.12,254.73 C504.72,253.93 506.02,253.63 506.92,253.09 C507.83,252.56 508.65,251.99 509.56,251.52 C510.46,251.06 511.39,250.67 512.33,250.28 C513.28,249.9 514.23,249.58 515.22,249.24 C516.22,248.9 517.28,248.22 518.3,248.25 C519.32,248.28 520.31,249.18 521.35,249.42 C522.38,249.65 523.49,249.42 524.5,249.66 C525.51,249.91 526.52,250.36 527.4,250.91 C528.28,251.47 528.96,252.32 529.75,253 C530.54,253.69 531.54,254.2 532.14,255.01 C532.74,255.83 532.93,256.98 533.34,257.91 C533.76,258.85 534.24,259.7 534.62,260.63 C535,261.55 534.8,262.17 535.61,263.48 C536.42,264.79 539.43,268 539.5,268.5 C539.57,269 536.62,266.83 536.05,266.5Z" fill="#000" filter="url(#tex1)" opacity="0.22"/>
<rect x="495.4" y="285" width="13" height="1.7" fill="#fff" />
</g>
<defs><filter id="tb2" x="-10%" y="-10%" width="120%" height="120%"><feGaussianBlur stdDeviation="0.55"/></filter><radialGradient id="tp2"><stop offset="0" stop-color="#626364"/><stop offset="0.72" stop-color="#626364"/><stop offset="1" stop-color="#8c8d8e"/></radialGradient><radialGradient id="th2" cx="0.48" cy="0.52" r="0.6"><stop offset="0.5" stop-color="#c8cacc"/><stop offset="1" stop-color="#b4b7ba"/></radialGradient><clipPath id="tc2"><rect x="601.6" y="205.2" width="54.1" height="51"/></clipPath></defs>
<g clip-path="url(#tc2)">
<rect x="601.6" y="205.2" width="54.1" height="51" fill="url(#th2)" />
<rect x="601.6" y="205.2" width="54.1" height="51" fill="#000" filter="url(#tex2)" opacity="0.06"/>
<path d="M644.94,231.7 C645.04,232.26 645.57,233.98 645.51,235.09 C645.46,236.2 644.94,237.25 644.63,238.35 C644.33,239.44 644.26,240.73 643.67,241.64 C643.08,242.55 641.9,243.07 641.11,243.82 C640.33,244.56 639.67,245.32 638.96,246.12 C638.24,246.92 637.65,248 636.82,248.64 C635.98,249.28 634.93,249.69 633.93,249.97 C632.93,250.25 631.85,250.11 630.83,250.31 C629.8,250.51 628.81,251.16 627.8,251.18 C626.79,251.21 625.78,250.63 624.75,250.45 C623.72,250.28 622.53,250.58 621.61,250.14 C620.69,249.7 620.04,248.5 619.22,247.82 C618.4,247.14 617.58,246.65 616.67,246.08 C615.77,245.52 614.48,245.25 613.81,244.44 C613.13,243.62 613.03,242.24 612.65,241.19 C612.26,240.14 611.94,239.15 611.49,238.14 C611.04,237.13 610.21,236.19 609.94,235.12 C609.68,234.04 609.76,232.81 609.91,231.7 C610.07,230.59 610.66,229.56 610.86,228.46 C611.05,227.36 610.86,226.19 611.1,225.11 C611.33,224.03 611.69,222.88 612.27,221.97 C612.85,221.07 613.94,220.55 614.6,219.69 C615.27,218.83 615.52,217.5 616.28,216.81 C617.05,216.13 618.29,216.06 619.22,215.57 C620.14,215.09 620.89,214.25 621.83,213.89 C622.76,213.53 623.83,213.58 624.83,213.42 C625.82,213.27 626.77,213.18 627.8,212.95 C628.83,212.73 629.99,211.93 630.99,212.07 C631.99,212.21 632.81,213.41 633.81,213.8 C634.81,214.19 636.11,213.88 637,214.42 C637.88,214.96 638.38,216.26 639.12,217.06 C639.87,217.87 640.73,218.46 641.48,219.25 C642.22,220.04 643.05,220.85 643.59,221.81 C644.12,222.78 644.5,223.93 644.68,225.04 C644.87,226.14 644.65,227.36 644.69,228.47 C644.73,229.58 644.9,231.16 644.94,231.7Z" fill="url(#tp2)" filter="url(#tb2)"/>
<path d="M644.94,231.7 C645.04,232.26 645.57,233.98 645.51,235.09 C645.46,236.2 644.94,237.25 644.63,238.35 C644.33,239.44 644.26,240.73 643.67,241.64 C643.08,242.55 641.9,243.07 641.11,243.82 C640.33,244.56 639.67,245.32 638.96,246.12 C638.24,246.92 637.65,248 636.82,248.64 C635.98,249.28 634.93,249.69 633.93,249.97 C632.93,250.25 631.85,250.11 630.83,250.31 C629.8,250.51 628.81,251.16 627.8,251.18 C626.79,251.21 625.78,250.63 624.75,250.45 C623.72,250.28 622.53,250.58 621.61,250.14 C620.69,249.7 620.04,248.5 619.22,247.82 C618.4,247.14 617.58,246.65 616.67,246.08 C615.77,245.52 614.48,245.25 613.81,244.44 C613.13,243.62 613.03,242.24 612.65,241.19 C612.26,240.14 611.94,239.15 611.49,238.14 C611.04,237.13 610.21,236.19 609.94,235.12 C609.68,234.04 609.76,232.81 609.91,231.7 C610.07,230.59 610.66,229.56 610.86,228.46 C611.05,227.36 610.86,226.19 611.1,225.11 C611.33,224.03 611.69,222.88 612.27,221.97 C612.85,221.07 613.94,220.55 614.6,219.69 C615.27,218.83 615.52,217.5 616.28,216.81 C617.05,216.13 618.29,216.06 619.22,215.57 C620.14,215.09 620.89,214.25 621.83,213.89 C622.76,213.53 623.83,213.58 624.83,213.42 C625.82,213.27 626.77,213.18 627.8,212.95 C628.83,212.73 629.99,211.93 630.99,212.07 C631.99,212.21 632.81,213.41 633.81,213.8 C634.81,214.19 636.11,213.88 637,214.42 C637.88,214.96 638.38,216.26 639.12,217.06 C639.87,217.87 640.73,218.46 641.48,219.25 C642.22,220.04 643.05,220.85 643.59,221.81 C644.12,222.78 644.5,223.93 644.68,225.04 C644.87,226.14 644.65,227.36 644.69,228.47 C644.73,229.58 644.9,231.16 644.94,231.7Z" fill="#000" filter="url(#tex2)" opacity="0.22"/>
<rect x="604.8" y="251.8" width="13" height="1.7" fill="#fff" />
</g>
<line x1="494.2" y1="359.5" x2="504" y2="300.5" stroke="#333" stroke-width="0.8" />
<polygon points="505,297.5 505.9,300.89 503.06,300.42" fill="#333" stroke="none" stroke-width="0" />
<line x1="673" y1="254" x2="659.5" y2="246.3" stroke="#333" stroke-width="0.8" />
<polygon points="657,244.9 660.49,245.23 659.07,247.74" fill="#333" stroke="none" stroke-width="0" />
<line x1="535.7" y1="223.8" x2="538.26" y2="224.25" stroke="#f0c54a" stroke-width="0.55" />
<line x1="535.7" y1="223.8" x2="536.67" y2="225.18" stroke="#f0c54a" stroke-width="0.55" />
<line x1="535.7" y1="223.8" x2="535.25" y2="226.36" stroke="#f0c54a" stroke-width="0.55" />
<line x1="535.7" y1="223.8" x2="534.32" y2="224.77" stroke="#f0c54a" stroke-width="0.55" />
<line x1="535.7" y1="223.8" x2="533.14" y2="223.35" stroke="#f0c54a" stroke-width="0.55" />
<line x1="535.7" y1="223.8" x2="534.73" y2="222.42" stroke="#f0c54a" stroke-width="0.55" />
<line x1="535.7" y1="223.8" x2="536.15" y2="221.24" stroke="#f0c54a" stroke-width="0.55" />
<line x1="535.7" y1="223.8" x2="537.08" y2="222.83" stroke="#f0c54a" stroke-width="0.55" />
<circle cx="535.7" cy="223.8" r="0.75" fill="#f3cf60"/>
<line x1="545.4" y1="223.8" x2="547.96" y2="224.25" stroke="#f0c54a" stroke-width="0.55" />
<line x1="545.4" y1="223.8" x2="546.37" y2="225.18" stroke="#f0c54a" stroke-width="0.55" />
<line x1="545.4" y1="223.8" x2="544.95" y2="226.36" stroke="#f0c54a" stroke-width="0.55" />
<line x1="545.4" y1="223.8" x2="544.02" y2="224.77" stroke="#f0c54a" stroke-width="0.55" />
<line x1="545.4" y1="223.8" x2="542.84" y2="223.35" stroke="#f0c54a" stroke-width="0.55" />
<line x1="545.4" y1="223.8" x2="544.43" y2="222.42" stroke="#f0c54a" stroke-width="0.55" />
<line x1="545.4" y1="223.8" x2="545.85" y2="221.24" stroke="#f0c54a" stroke-width="0.55" />
<line x1="545.4" y1="223.8" x2="546.78" y2="222.83" stroke="#f0c54a" stroke-width="0.55" />
<circle cx="545.4" cy="223.8" r="0.75" fill="#f3cf60"/>
<line x1="549.5" y1="215.7" x2="552.06" y2="216.15" stroke="#f0c54a" stroke-width="0.55" />
<line x1="549.5" y1="215.7" x2="550.47" y2="217.08" stroke="#f0c54a" stroke-width="0.55" />
<line x1="549.5" y1="215.7" x2="549.05" y2="218.26" stroke="#f0c54a" stroke-width="0.55" />
<line x1="549.5" y1="215.7" x2="548.12" y2="216.67" stroke="#f0c54a" stroke-width="0.55" />
<line x1="549.5" y1="215.7" x2="546.94" y2="215.25" stroke="#f0c54a" stroke-width="0.55" />
<line x1="549.5" y1="215.7" x2="548.53" y2="214.32" stroke="#f0c54a" stroke-width="0.55" />
<line x1="549.5" y1="215.7" x2="549.95" y2="213.14" stroke="#f0c54a" stroke-width="0.55" />
<line x1="549.5" y1="215.7" x2="550.88" y2="214.73" stroke="#f0c54a" stroke-width="0.55" />
<circle cx="549.5" cy="215.7" r="0.75" fill="#f3cf60"/>
<line x1="564.3" y1="209.7" x2="566.86" y2="210.15" stroke="#f0c54a" stroke-width="0.55" />
<line x1="564.3" y1="209.7" x2="565.27" y2="211.08" stroke="#f0c54a" stroke-width="0.55" />
<line x1="564.3" y1="209.7" x2="563.85" y2="212.26" stroke="#f0c54a" stroke-width="0.55" />
<line x1="564.3" y1="209.7" x2="562.92" y2="210.67" stroke="#f0c54a" stroke-width="0.55" />
<line x1="564.3" y1="209.7" x2="561.74" y2="209.25" stroke="#f0c54a" stroke-width="0.55" />
<line x1="564.3" y1="209.7" x2="563.33" y2="208.32" stroke="#f0c54a" stroke-width="0.55" />
<line x1="564.3" y1="209.7" x2="564.75" y2="207.14" stroke="#f0c54a" stroke-width="0.55" />
<line x1="564.3" y1="209.7" x2="565.68" y2="208.73" stroke="#f0c54a" stroke-width="0.55" />
<circle cx="564.3" cy="209.7" r="0.75" fill="#f3cf60"/>
<line x1="577.6" y1="207.4" x2="580.16" y2="207.85" stroke="#f0c54a" stroke-width="0.55" />
<line x1="577.6" y1="207.4" x2="578.57" y2="208.78" stroke="#f0c54a" stroke-width="0.55" />
<line x1="577.6" y1="207.4" x2="577.15" y2="209.96" stroke="#f0c54a" stroke-width="0.55" />
<line x1="577.6" y1="207.4" x2="576.22" y2="208.37" stroke="#f0c54a" stroke-width="0.55" />
<line x1="577.6" y1="207.4" x2="575.04" y2="206.95" stroke="#f0c54a" stroke-width="0.55" />
<line x1="577.6" y1="207.4" x2="576.63" y2="206.02" stroke="#f0c54a" stroke-width="0.55" />
<line x1="577.6" y1="207.4" x2="578.05" y2="204.84" stroke="#f0c54a" stroke-width="0.55" />
<line x1="577.6" y1="207.4" x2="578.98" y2="206.43" stroke="#f0c54a" stroke-width="0.55" />
<circle cx="577.6" cy="207.4" r="0.75" fill="#f3cf60"/>
<line x1="590.3" y1="212.7" x2="592.86" y2="213.15" stroke="#f0c54a" stroke-width="0.55" />
<line x1="590.3" y1="212.7" x2="591.27" y2="214.08" stroke="#f0c54a" stroke-width="0.55" />
<line x1="590.3" y1="212.7" x2="589.85" y2="215.26" stroke="#f0c54a" stroke-width="0.55" />
<line x1="590.3" y1="212.7" x2="588.92" y2="213.67" stroke="#f0c54a" stroke-width="0.55" />
<line x1="590.3" y1="212.7" x2="587.74" y2="212.25" stroke="#f0c54a" stroke-width="0.55" />
<line x1="590.3" y1="212.7" x2="589.33" y2="211.32" stroke="#f0c54a" stroke-width="0.55" />
<line x1="590.3" y1="212.7" x2="590.75" y2="210.14" stroke="#f0c54a" stroke-width="0.55" />
<line x1="590.3" y1="212.7" x2="591.68" y2="211.73" stroke="#f0c54a" stroke-width="0.55" />
<circle cx="590.3" cy="212.7" r="0.75" fill="#f3cf60"/>
<line x1="596.5" y1="221.4" x2="599.06" y2="221.85" stroke="#f0c54a" stroke-width="0.55" />
<line x1="596.5" y1="221.4" x2="597.47" y2="222.78" stroke="#f0c54a" stroke-width="0.55" />
<line x1="596.5" y1="221.4" x2="596.05" y2="223.96" stroke="#f0c54a" stroke-width="0.55" />
<line x1="596.5" y1="221.4" x2="595.12" y2="222.37" stroke="#f0c54a" stroke-width="0.55" />
<line x1="596.5" y1="221.4" x2="593.94" y2="220.95" stroke="#f0c54a" stroke-width="0.55" />
<line x1="596.5" y1="221.4" x2="595.53" y2="220.02" stroke="#f0c54a" stroke-width="0.55" />
<line x1="596.5" y1="221.4" x2="596.95" y2="218.84" stroke="#f0c54a" stroke-width="0.55" />
<line x1="596.5" y1="221.4" x2="597.88" y2="220.43" stroke="#f0c54a" stroke-width="0.55" />
<circle cx="596.5" cy="221.4" r="0.75" fill="#f3cf60"/>
<line x1="594.2" y1="254.9" x2="596.76" y2="255.35" stroke="#f0c54a" stroke-width="0.55" />
<line x1="594.2" y1="254.9" x2="595.17" y2="256.28" stroke="#f0c54a" stroke-width="0.55" />
<line x1="594.2" y1="254.9" x2="593.75" y2="257.46" stroke="#f0c54a" stroke-width="0.55" />
<line x1="594.2" y1="254.9" x2="592.82" y2="255.87" stroke="#f0c54a" stroke-width="0.55" />
<line x1="594.2" y1="254.9" x2="591.64" y2="254.45" stroke="#f0c54a" stroke-width="0.55" />
<line x1="594.2" y1="254.9" x2="593.23" y2="253.52" stroke="#f0c54a" stroke-width="0.55" />
<line x1="594.2" y1="254.9" x2="594.65" y2="252.34" stroke="#f0c54a" stroke-width="0.55" />
<line x1="594.2" y1="254.9" x2="595.58" y2="253.93" stroke="#f0c54a" stroke-width="0.55" />
<circle cx="594.2" cy="254.9" r="0.75" fill="#f3cf60"/>
<line x1="584.6" y1="264.6" x2="587.16" y2="265.05" stroke="#f0c54a" stroke-width="0.55" />
<line x1="584.6" y1="264.6" x2="585.57" y2="265.98" stroke="#f0c54a" stroke-width="0.55" />
<line x1="584.6" y1="264.6" x2="584.15" y2="267.16" stroke="#f0c54a" stroke-width="0.55" />
<line x1="584.6" y1="264.6" x2="583.22" y2="265.57" stroke="#f0c54a" stroke-width="0.55" />
<line x1="584.6" y1="264.6" x2="582.04" y2="264.15" stroke="#f0c54a" stroke-width="0.55" />
<line x1="584.6" y1="264.6" x2="583.63" y2="263.22" stroke="#f0c54a" stroke-width="0.55" />
<line x1="584.6" y1="264.6" x2="585.05" y2="262.04" stroke="#f0c54a" stroke-width="0.55" />
<line x1="584.6" y1="264.6" x2="585.98" y2="263.63" stroke="#f0c54a" stroke-width="0.55" />
<circle cx="584.6" cy="264.6" r="0.75" fill="#f3cf60"/>
<line x1="571.2" y1="261.8" x2="573.76" y2="262.25" stroke="#f0c54a" stroke-width="0.55" />
<line x1="571.2" y1="261.8" x2="572.17" y2="263.18" stroke="#f0c54a" stroke-width="0.55" />
<line x1="571.2" y1="261.8" x2="570.75" y2="264.36" stroke="#f0c54a" stroke-width="0.55" />
<line x1="571.2" y1="261.8" x2="569.82" y2="262.77" stroke="#f0c54a" stroke-width="0.55" />
<line x1="571.2" y1="261.8" x2="568.64" y2="261.35" stroke="#f0c54a" stroke-width="0.55" />
<line x1="571.2" y1="261.8" x2="570.23" y2="260.42" stroke="#f0c54a" stroke-width="0.55" />
<line x1="571.2" y1="261.8" x2="571.65" y2="259.24" stroke="#f0c54a" stroke-width="0.55" />
<line x1="571.2" y1="261.8" x2="572.58" y2="260.83" stroke="#f0c54a" stroke-width="0.55" />
<circle cx="571.2" cy="261.8" r="0.75" fill="#f3cf60"/>
<line x1="559.2" y1="264.6" x2="561.76" y2="265.05" stroke="#f0c54a" stroke-width="0.55" />
<line x1="559.2" y1="264.6" x2="560.17" y2="265.98" stroke="#f0c54a" stroke-width="0.55" />
<line x1="559.2" y1="264.6" x2="558.75" y2="267.16" stroke="#f0c54a" stroke-width="0.55" />
<line x1="559.2" y1="264.6" x2="557.82" y2="265.57" stroke="#f0c54a" stroke-width="0.55" />
<line x1="559.2" y1="264.6" x2="556.64" y2="264.15" stroke="#f0c54a" stroke-width="0.55" />
<line x1="559.2" y1="264.6" x2="558.23" y2="263.22" stroke="#f0c54a" stroke-width="0.55" />
<line x1="559.2" y1="264.6" x2="559.65" y2="262.04" stroke="#f0c54a" stroke-width="0.55" />
<line x1="559.2" y1="264.6" x2="560.58" y2="263.63" stroke="#f0c54a" stroke-width="0.55" />
<circle cx="559.2" cy="264.6" r="0.75" fill="#f3cf60"/>
<line x1="555" y1="225" x2="557.56" y2="225.45" stroke="#f0c54a" stroke-width="0.55" />
<line x1="555" y1="225" x2="555.97" y2="226.38" stroke="#f0c54a" stroke-width="0.55" />
<line x1="555" y1="225" x2="554.55" y2="227.56" stroke="#f0c54a" stroke-width="0.55" />
<line x1="555" y1="225" x2="553.62" y2="225.97" stroke="#f0c54a" stroke-width="0.55" />
<line x1="555" y1="225" x2="552.44" y2="224.55" stroke="#f0c54a" stroke-width="0.55" />
<line x1="555" y1="225" x2="554.03" y2="223.62" stroke="#f0c54a" stroke-width="0.55" />
<line x1="555" y1="225" x2="555.45" y2="222.44" stroke="#f0c54a" stroke-width="0.55" />
<line x1="555" y1="225" x2="556.38" y2="224.03" stroke="#f0c54a" stroke-width="0.55" />
<circle cx="555" cy="225" r="0.75" fill="#f3cf60"/>
<line x1="588.3" y1="225.8" x2="590.86" y2="226.25" stroke="#f0c54a" stroke-width="0.55" />
<line x1="588.3" y1="225.8" x2="589.27" y2="227.18" stroke="#f0c54a" stroke-width="0.55" />
<line x1="588.3" y1="225.8" x2="587.85" y2="228.36" stroke="#f0c54a" stroke-width="0.55" />
<line x1="588.3" y1="225.8" x2="586.92" y2="226.77" stroke="#f0c54a" stroke-width="0.55" />
<line x1="588.3" y1="225.8" x2="585.74" y2="225.35" stroke="#f0c54a" stroke-width="0.55" />
<line x1="588.3" y1="225.8" x2="587.33" y2="224.42" stroke="#f0c54a" stroke-width="0.55" />
<line x1="588.3" y1="225.8" x2="588.75" y2="223.24" stroke="#f0c54a" stroke-width="0.55" />
<line x1="588.3" y1="225.8" x2="589.68" y2="224.83" stroke="#f0c54a" stroke-width="0.55" />
<circle cx="588.3" cy="225.8" r="0.75" fill="#f3cf60"/>
<line x1="545" y1="224.2" x2="547.56" y2="224.65" stroke="#f0c54a" stroke-width="0.55" />
<line x1="545" y1="224.2" x2="545.97" y2="225.58" stroke="#f0c54a" stroke-width="0.55" />
<line x1="545" y1="224.2" x2="544.55" y2="226.76" stroke="#f0c54a" stroke-width="0.55" />
<line x1="545" y1="224.2" x2="543.62" y2="225.17" stroke="#f0c54a" stroke-width="0.55" />
<line x1="545" y1="224.2" x2="542.44" y2="223.75" stroke="#f0c54a" stroke-width="0.55" />
<line x1="545" y1="224.2" x2="544.03" y2="222.82" stroke="#f0c54a" stroke-width="0.55" />
<line x1="545" y1="224.2" x2="545.45" y2="221.64" stroke="#f0c54a" stroke-width="0.55" />
<line x1="545" y1="224.2" x2="546.38" y2="223.23" stroke="#f0c54a" stroke-width="0.55" />
<circle cx="545" cy="224.2" r="0.75" fill="#f3cf60"/>
<polygon points="572.3,214.77 561.65,220.92 561.65,233.22 572.3,239.38 582.95,233.22 582.95,220.92" fill="#0f7d70" stroke="none" stroke-width="0" />
<polygon points="561.65,233.22 551,239.37 551,251.67 561.65,257.82 572.3,251.67 572.3,239.37" fill="#0f7d70" stroke="none" stroke-width="0" />
<polygon points="582.95,233.22 572.3,239.37 572.3,251.67 582.95,257.82 593.6,251.67 593.6,239.37" fill="#0f7d70" stroke="none" stroke-width="0" />
<polygon points="572.3,213.17 561.65,219.32 561.65,231.62 572.3,237.78 582.95,231.62 582.95,219.32" fill="#2bbaa8" stroke="#1a9c8c" stroke-width="0.5" />
<polygon points="561.65,231.62 551,237.77 551,250.07 561.65,256.22 572.3,250.07 572.3,237.77" fill="#2bbaa8" stroke="#1a9c8c" stroke-width="0.5" />
<polygon points="582.95,231.62 572.3,237.77 572.3,250.07 582.95,256.22 593.6,250.07 593.6,237.77" fill="#2bbaa8" stroke="#1a9c8c" stroke-width="0.5" />
<clipPath id="hx7"><polygon points="572.3,216.37 564.42,220.92 564.42,230.03 572.3,234.58 580.18,230.03 580.18,220.92"/></clipPath>
<g clip-path="url(#hx7)">
<rect x="563.2" y="216.37" width="9.1" height="18.2" fill="#0b5a51" />
<rect x="572.3" y="216.37" width="9.1" height="18.2" fill="#14907f" />
<polygon points="572.3,224.75 564.42,229.3 564.42,238.4 572.3,242.95 580.18,238.4 580.18,229.3" fill="#0f4a44" stroke="none" stroke-width="0" />
<circle cx="572.76" cy="229.57" r="4.55" fill="#66c8b4" opacity="0.95"/>
<line x1="574.02" y1="225.94" x2="576.93" y2="225.97" stroke="#ead24a" stroke-width="0.5" />
<line x1="574.02" y1="225.94" x2="574.73" y2="228.76" stroke="#ead24a" stroke-width="0.5" />
<line x1="574.02" y1="225.94" x2="571.33" y2="227.06" stroke="#ead24a" stroke-width="0.5" />
<line x1="574.02" y1="225.94" x2="571.34" y2="224.8" stroke="#ead24a" stroke-width="0.5" />
<line x1="574.02" y1="225.94" x2="573.6" y2="223.05" stroke="#ead24a" stroke-width="0.5" />
<line x1="574.02" y1="225.94" x2="576.88" y2="225.38" stroke="#ead24a" stroke-width="0.5" />
<line x1="572.07" y1="230.43" x2="574.24" y2="232.37" stroke="#ead24a" stroke-width="0.5" />
<line x1="572.07" y1="230.43" x2="571.05" y2="233.16" stroke="#ead24a" stroke-width="0.5" />
<line x1="572.07" y1="230.43" x2="569.26" y2="231.21" stroke="#ead24a" stroke-width="0.5" />
<line x1="572.07" y1="230.43" x2="570.51" y2="227.97" stroke="#ead24a" stroke-width="0.5" />
<line x1="572.07" y1="230.43" x2="571.06" y2="227.7" stroke="#ead24a" stroke-width="0.5" />
<line x1="572.07" y1="230.43" x2="574.97" y2="230.25" stroke="#ead24a" stroke-width="0.5" />
<line x1="577.21" y1="223.84" x2="579.81" y2="225.16" stroke="#ead24a" stroke-width="0.5" />
<line x1="577.21" y1="223.84" x2="577.95" y2="226.66" stroke="#ead24a" stroke-width="0.5" />
<line x1="577.21" y1="223.84" x2="575.31" y2="226.04" stroke="#ead24a" stroke-width="0.5" />
<line x1="577.21" y1="223.84" x2="575.61" y2="221.41" stroke="#ead24a" stroke-width="0.5" />
<line x1="577.21" y1="223.84" x2="576.45" y2="221.03" stroke="#ead24a" stroke-width="0.5" />
<line x1="577.21" y1="223.84" x2="579.36" y2="221.87" stroke="#ead24a" stroke-width="0.5" />
<line x1="576.99" y1="225.43" x2="578.78" y2="227.73" stroke="#ead24a" stroke-width="0.5" />
<line x1="576.99" y1="225.43" x2="577.92" y2="228.19" stroke="#ead24a" stroke-width="0.5" />
<line x1="576.99" y1="225.43" x2="574.54" y2="227" stroke="#ead24a" stroke-width="0.5" />
<line x1="576.99" y1="225.43" x2="574.15" y2="224.81" stroke="#ead24a" stroke-width="0.5" />
<line x1="576.99" y1="225.43" x2="576.17" y2="222.64" stroke="#ead24a" stroke-width="0.5" />
<line x1="576.99" y1="225.43" x2="579.38" y2="223.76" stroke="#ead24a" stroke-width="0.5" />
<line x1="572.39" y1="225.14" x2="575.02" y2="226.39" stroke="#ead24a" stroke-width="0.5" />
<line x1="572.39" y1="225.14" x2="573.25" y2="227.93" stroke="#ead24a" stroke-width="0.5" />
<line x1="572.39" y1="225.14" x2="570.37" y2="227.24" stroke="#ead24a" stroke-width="0.5" />
<line x1="572.39" y1="225.14" x2="569.86" y2="223.71" stroke="#ead24a" stroke-width="0.5" />
<line x1="572.39" y1="225.14" x2="572.86" y2="222.27" stroke="#ead24a" stroke-width="0.5" />
<line x1="572.39" y1="225.14" x2="574.91" y2="223.68" stroke="#ead24a" stroke-width="0.5" />
<line x1="577.22" y1="221.4" x2="579.45" y2="223.26" stroke="#ead24a" stroke-width="0.5" />
<line x1="577.22" y1="221.4" x2="578.56" y2="223.98" stroke="#ead24a" stroke-width="0.5" />
<line x1="577.22" y1="221.4" x2="574.4" y2="222.11" stroke="#ead24a" stroke-width="0.5" />
<line x1="577.22" y1="221.4" x2="575.29" y2="219.21" stroke="#ead24a" stroke-width="0.5" />
<line x1="577.22" y1="221.4" x2="577.04" y2="218.49" stroke="#ead24a" stroke-width="0.5" />
<line x1="577.22" y1="221.4" x2="580.13" y2="221.36" stroke="#ead24a" stroke-width="0.5" />
</g>
<clipPath id="hx8"><polygon points="561.65,234.82 553.77,239.37 553.77,248.48 561.65,253.03 569.53,248.48 569.53,239.37"/></clipPath>
<g clip-path="url(#hx8)">
<rect x="552.55" y="234.82" width="9.1" height="18.2" fill="#0a3833" />
<rect x="561.65" y="234.82" width="9.1" height="18.2" fill="#14907f" />
<polygon points="561.65,241.19 553.77,245.75 553.77,254.85 561.65,259.4 569.53,254.85 569.53,245.75" fill="#0f4a44" stroke="none" stroke-width="0" />
<circle cx="562.1" cy="248.02" r="4.55" fill="#66c8b4" opacity="0.95"/>
<line x1="558.99" y1="240.48" x2="561.72" y2="241.5" stroke="#ead24a" stroke-width="0.5" />
<line x1="558.99" y1="240.48" x2="559.94" y2="243.24" stroke="#ead24a" stroke-width="0.5" />
<line x1="558.99" y1="240.48" x2="557.49" y2="242.98" stroke="#ead24a" stroke-width="0.5" />
<line x1="558.99" y1="240.48" x2="556.33" y2="239.3" stroke="#ead24a" stroke-width="0.5" />
<line x1="558.99" y1="240.48" x2="559.63" y2="237.64" stroke="#ead24a" stroke-width="0.5" />
<line x1="558.99" y1="240.48" x2="560.79" y2="238.19" stroke="#ead24a" stroke-width="0.5" />
<line x1="560.73" y1="241.62" x2="563.41" y2="242.76" stroke="#ead24a" stroke-width="0.5" />
<line x1="560.73" y1="241.62" x2="559.94" y2="244.42" stroke="#ead24a" stroke-width="0.5" />
<line x1="560.73" y1="241.62" x2="558.59" y2="243.59" stroke="#ead24a" stroke-width="0.5" />
<line x1="560.73" y1="241.62" x2="557.83" y2="241.39" stroke="#ead24a" stroke-width="0.5" />
<line x1="560.73" y1="241.62" x2="560.95" y2="238.71" stroke="#ead24a" stroke-width="0.5" />
<line x1="560.73" y1="241.62" x2="563.48" y2="240.65" stroke="#ead24a" stroke-width="0.5" />
<line x1="561.19" y1="246.12" x2="564.07" y2="246.56" stroke="#ead24a" stroke-width="0.5" />
<line x1="561.19" y1="246.12" x2="559.83" y2="248.7" stroke="#ead24a" stroke-width="0.5" />
<line x1="561.19" y1="246.12" x2="558.28" y2="246.27" stroke="#ead24a" stroke-width="0.5" />
<line x1="561.19" y1="246.12" x2="559.48" y2="243.77" stroke="#ead24a" stroke-width="0.5" />
<line x1="561.19" y1="246.12" x2="562.4" y2="243.47" stroke="#ead24a" stroke-width="0.5" />
<line x1="561.19" y1="246.12" x2="563.49" y2="244.33" stroke="#ead24a" stroke-width="0.5" />
<line x1="557.57" y1="246.68" x2="559.17" y2="249.12" stroke="#ead24a" stroke-width="0.5" />
<line x1="557.57" y1="246.68" x2="557.52" y2="249.59" stroke="#ead24a" stroke-width="0.5" />
<line x1="557.57" y1="246.68" x2="554.93" y2="247.89" stroke="#ead24a" stroke-width="0.5" />
<line x1="557.57" y1="246.68" x2="554.98" y2="245.36" stroke="#ead24a" stroke-width="0.5" />
<line x1="557.57" y1="246.68" x2="557.22" y2="243.79" stroke="#ead24a" stroke-width="0.5" />
<line x1="557.57" y1="246.68" x2="559.56" y2="244.55" stroke="#ead24a" stroke-width="0.5" />
<line x1="566.19" y1="246.05" x2="568.82" y2="247.29" stroke="#ead24a" stroke-width="0.5" />
<line x1="566.19" y1="246.05" x2="565.76" y2="248.93" stroke="#ead24a" stroke-width="0.5" />
<line x1="566.19" y1="246.05" x2="563.28" y2="246.07" stroke="#ead24a" stroke-width="0.5" />
<line x1="566.19" y1="246.05" x2="563.72" y2="244.5" stroke="#ead24a" stroke-width="0.5" />
<line x1="566.19" y1="246.05" x2="566.14" y2="243.13" stroke="#ead24a" stroke-width="0.5" />
<line x1="566.19" y1="246.05" x2="567.95" y2="243.72" stroke="#ead24a" stroke-width="0.5" />
<line x1="563.19" y1="248.57" x2="565.12" y2="250.74" stroke="#ead24a" stroke-width="0.5" />
<line x1="563.19" y1="248.57" x2="562.34" y2="251.36" stroke="#ead24a" stroke-width="0.5" />
<line x1="563.19" y1="248.57" x2="560.35" y2="249.23" stroke="#ead24a" stroke-width="0.5" />
<line x1="563.19" y1="248.57" x2="560.56" y2="247.31" stroke="#ead24a" stroke-width="0.5" />
<line x1="563.19" y1="248.57" x2="564.02" y2="245.78" stroke="#ead24a" stroke-width="0.5" />
<line x1="563.19" y1="248.57" x2="566.07" y2="248.16" stroke="#ead24a" stroke-width="0.5" />
</g>
<clipPath id="hx9"><polygon points="582.95,234.82 575.07,239.37 575.07,248.48 582.95,253.03 590.83,248.48 590.83,239.37"/></clipPath>
<g clip-path="url(#hx9)">
<rect x="573.85" y="234.82" width="9.1" height="18.2" fill="#0b5a51" />
<rect x="582.95" y="234.82" width="9.1" height="18.2" fill="#14907f" />
<polygon points="582.95,241.19 575.07,245.75 575.07,254.85 582.95,259.4 590.83,254.85 590.83,245.75" fill="#0f4a44" stroke="none" stroke-width="0" />
<circle cx="583.41" cy="248.02" r="4.55" fill="#66c8b4" opacity="0.95"/>
<line x1="583.28" y1="249.66" x2="584.83" y2="252.13" stroke="#ead24a" stroke-width="0.5" />
<line x1="583.28" y1="249.66" x2="583.77" y2="252.53" stroke="#ead24a" stroke-width="0.5" />
<line x1="583.28" y1="249.66" x2="581.02" y2="251.5" stroke="#ead24a" stroke-width="0.5" />
<line x1="583.28" y1="249.66" x2="580.38" y2="249.45" stroke="#ead24a" stroke-width="0.5" />
<line x1="583.28" y1="249.66" x2="584.51" y2="247.02" stroke="#ead24a" stroke-width="0.5" />
<line x1="583.28" y1="249.66" x2="584.95" y2="247.27" stroke="#ead24a" stroke-width="0.5" />
<line x1="578.51" y1="242.95" x2="580.74" y2="244.83" stroke="#ead24a" stroke-width="0.5" />
<line x1="578.51" y1="242.95" x2="578.78" y2="245.85" stroke="#ead24a" stroke-width="0.5" />
<line x1="578.51" y1="242.95" x2="577.02" y2="245.45" stroke="#ead24a" stroke-width="0.5" />
<line x1="578.51" y1="242.95" x2="576.57" y2="240.78" stroke="#ead24a" stroke-width="0.5" />
<line x1="578.51" y1="242.95" x2="579.48" y2="240.2" stroke="#ead24a" stroke-width="0.5" />
<line x1="578.51" y1="242.95" x2="580.88" y2="241.26" stroke="#ead24a" stroke-width="0.5" />
<line x1="581.99" y1="247.03" x2="584.86" y2="247.53" stroke="#ead24a" stroke-width="0.5" />
<line x1="581.99" y1="247.03" x2="580.69" y2="249.63" stroke="#ead24a" stroke-width="0.5" />
<line x1="581.99" y1="247.03" x2="579.79" y2="248.93" stroke="#ead24a" stroke-width="0.5" />
<line x1="581.99" y1="247.03" x2="579.94" y2="244.96" stroke="#ead24a" stroke-width="0.5" />
<line x1="581.99" y1="247.03" x2="582.32" y2="244.13" stroke="#ead24a" stroke-width="0.5" />
<line x1="581.99" y1="247.03" x2="584.71" y2="246" stroke="#ead24a" stroke-width="0.5" />
<line x1="588.36" y1="241.9" x2="589.89" y2="244.38" stroke="#ead24a" stroke-width="0.5" />
<line x1="588.36" y1="241.9" x2="587.4" y2="244.65" stroke="#ead24a" stroke-width="0.5" />
<line x1="588.36" y1="241.9" x2="585.99" y2="243.6" stroke="#ead24a" stroke-width="0.5" />
<line x1="588.36" y1="241.9" x2="585.82" y2="240.46" stroke="#ead24a" stroke-width="0.5" />
<line x1="588.36" y1="241.9" x2="587.81" y2="239.04" stroke="#ead24a" stroke-width="0.5" />
<line x1="588.36" y1="241.9" x2="591.23" y2="241.41" stroke="#ead24a" stroke-width="0.5" />
<line x1="581.64" y1="246.68" x2="584.18" y2="248.11" stroke="#ead24a" stroke-width="0.5" />
<line x1="581.64" y1="246.68" x2="580.87" y2="249.48" stroke="#ead24a" stroke-width="0.5" />
<line x1="581.64" y1="246.68" x2="578.94" y2="247.75" stroke="#ead24a" stroke-width="0.5" />
<line x1="581.64" y1="246.68" x2="579.92" y2="244.33" stroke="#ead24a" stroke-width="0.5" />
<line x1="581.64" y1="246.68" x2="581.74" y2="243.76" stroke="#ead24a" stroke-width="0.5" />
<line x1="581.64" y1="246.68" x2="583.55" y2="244.47" stroke="#ead24a" stroke-width="0.5" />
<line x1="587.79" y1="243.81" x2="590.5" y2="244.86" stroke="#ead24a" stroke-width="0.5" />
<line x1="587.79" y1="243.81" x2="586.48" y2="246.41" stroke="#ead24a" stroke-width="0.5" />
<line x1="587.79" y1="243.81" x2="585.11" y2="244.94" stroke="#ead24a" stroke-width="0.5" />
<line x1="587.79" y1="243.81" x2="585.5" y2="242" stroke="#ead24a" stroke-width="0.5" />
<line x1="587.79" y1="243.81" x2="588.24" y2="240.93" stroke="#ead24a" stroke-width="0.5" />
<line x1="587.79" y1="243.81" x2="590.67" y2="243.37" stroke="#ead24a" stroke-width="0.5" />
</g>
<line x1="558.5" y1="219.5" x2="553.5" y2="217.5" stroke="#d9407a" stroke-width="0.9" />
<polygon points="553.5,217.5 555.69,217.41 555.02,219.08" fill="#d9407a" stroke="none" stroke-width="0" />
<line x1="582.5" y1="221.7" x2="588" y2="221.2" stroke="#d9407a" stroke-width="0.9" />
<polygon points="588,221.2 586.09,222.28 585.93,220.48" fill="#d9407a" stroke="none" stroke-width="0" />
<line x1="558.3" y1="254.5" x2="558.3" y2="259.5" stroke="#d9407a" stroke-width="0.9" />
<polygon points="558.3,259.5 557.4,257.5 559.2,257.5" fill="#d9407a" stroke="none" stroke-width="0" />
<line x1="586.5" y1="252.5" x2="589.5" y2="256.5" stroke="#d9407a" stroke-width="0.9" />
<polygon points="589.5,256.5 587.58,255.44 589.02,254.36" fill="#d9407a" stroke="none" stroke-width="0" />
<text x="0" y="0" transform="translate(493.9,218.3) scale(1,1.12)" font-size="7.7" font-weight="bold" fill="#111" text-anchor="start" >Release of TA</text>
<path d="M491.3,201.4 H677 V361.1 H491.3" fill="none" stroke="#3c3c3c" stroke-width="1.2" stroke-linecap="square"/>
<line x1="491.3" y1="201.4" x2="491.3" y2="361.1" stroke="#959595" stroke-width="1.9" />
<line x1="493.8" y1="361.1" x2="493.8" y2="364.1" stroke="#3c3c3c" stroke-width="1" />
<text x="0" y="0" transform="translate(493.8,373.4) scale(1,1.06)" font-size="9.2" font-weight="normal" fill="#222" text-anchor="middle" >0</text>
<line x1="529.7" y1="361.1" x2="529.7" y2="364.1" stroke="#3c3c3c" stroke-width="1" />
<text x="0" y="0" transform="translate(529.7,373.4) scale(1,1.06)" font-size="9.2" font-weight="normal" fill="#222" text-anchor="middle" >120</text>
<line x1="565.6" y1="361.1" x2="565.6" y2="364.1" stroke="#3c3c3c" stroke-width="1" />
<text x="0" y="0" transform="translate(565.6,373.4) scale(1,1.06)" font-size="9.2" font-weight="normal" fill="#222" text-anchor="middle" >240</text>
<line x1="601.5" y1="361.1" x2="601.5" y2="364.1" stroke="#3c3c3c" stroke-width="1" />
<text x="0" y="0" transform="translate(601.5,373.4) scale(1,1.06)" font-size="9.2" font-weight="normal" fill="#222" text-anchor="middle" >360</text>
<line x1="637.4" y1="361.1" x2="637.4" y2="364.1" stroke="#3c3c3c" stroke-width="1" />
<text x="0" y="0" transform="translate(637.4,373.4) scale(1,1.06)" font-size="9.2" font-weight="normal" fill="#222" text-anchor="middle" >480</text>
<line x1="673.3" y1="361.1" x2="673.3" y2="364.1" stroke="#3c3c3c" stroke-width="1" />
<text x="0" y="0" transform="translate(673.3,373.4) scale(1,1.06)" font-size="9.2" font-weight="normal" fill="#222" text-anchor="middle" >600</text>
<line x1="511.75" y1="361.1" x2="511.75" y2="363.1" stroke="#3c3c3c" stroke-width="1" />
<line x1="547.65" y1="361.1" x2="547.65" y2="363.1" stroke="#3c3c3c" stroke-width="1" />
<line x1="583.55" y1="361.1" x2="583.55" y2="363.1" stroke="#3c3c3c" stroke-width="1" />
<line x1="619.45" y1="361.1" x2="619.45" y2="363.1" stroke="#3c3c3c" stroke-width="1" />
<line x1="655.35" y1="361.1" x2="655.35" y2="363.1" stroke="#3c3c3c" stroke-width="1" />
<line x1="488.3" y1="360.2" x2="491.3" y2="360.2" stroke="#3c3c3c" stroke-width="1" />
<text x="0" y="0" transform="translate(485.4,363.2) scale(1,1.06)" font-size="9.2" font-weight="normal" fill="#222" text-anchor="end" >0</text>
<line x1="488.3" y1="320.47" x2="491.3" y2="320.47" stroke="#3c3c3c" stroke-width="1" />
<text x="0" y="0" transform="translate(485.4,323.47) scale(1,1.06)" font-size="9.2" font-weight="normal" fill="#222" text-anchor="end" >25</text>
<line x1="488.3" y1="280.75" x2="491.3" y2="280.75" stroke="#3c3c3c" stroke-width="1" />
<text x="0" y="0" transform="translate(485.4,283.75) scale(1,1.06)" font-size="9.2" font-weight="normal" fill="#222" text-anchor="end" >50</text>
<line x1="488.3" y1="241.02" x2="491.3" y2="241.02" stroke="#3c3c3c" stroke-width="1" />
<text x="0" y="0" transform="translate(485.4,244.02) scale(1,1.06)" font-size="9.2" font-weight="normal" fill="#222" text-anchor="end" >75</text>
<line x1="488.3" y1="201.3" x2="491.3" y2="201.3" stroke="#3c3c3c" stroke-width="1" />
<text x="0" y="0" transform="translate(485.4,204.3) scale(1,1.06)" font-size="9.2" font-weight="normal" fill="#222" text-anchor="end" >100</text>
<line x1="489.3" y1="340.34" x2="491.3" y2="340.34" stroke="#3c3c3c" stroke-width="1" />
<line x1="489.3" y1="300.61" x2="491.3" y2="300.61" stroke="#3c3c3c" stroke-width="1" />
<line x1="489.3" y1="260.89" x2="491.3" y2="260.89" stroke="#3c3c3c" stroke-width="1" />
<line x1="489.3" y1="221.16" x2="491.3" y2="221.16" stroke="#3c3c3c" stroke-width="1" />
<text x="583.8" y="386.7" font-size="10.9" font-weight="bold" fill="#111" text-anchor="middle" >Release Time (min)</text>
<text x="0" y="0" font-size="11" font-weight="bold" fill="#111" text-anchor="middle" transform="translate(468.9,280.4) rotate(-90)">Released TA (%)</text>
<text x="462.5" y="207.8" font-size="15" font-weight="bold" fill="#000" text-anchor="start" >f</text>
</svg></body></html>
